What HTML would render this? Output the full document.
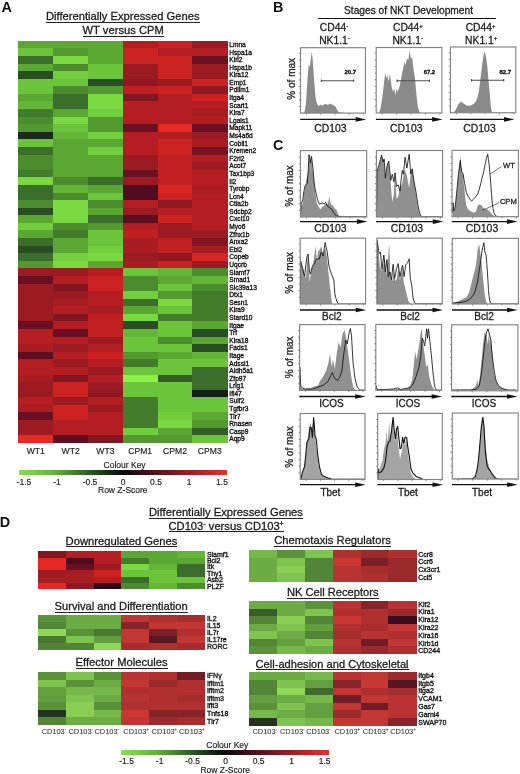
<!DOCTYPE html>
<html><head><meta charset="utf-8"><title>Figure</title>
<style>
html,body{margin:0;padding:0;background:#fff;}
body{width:520px;height:774px;overflow:hidden;font-family:"Liberation Sans",sans-serif;}
svg{display:block;will-change:transform;}
text{font-family:"Liberation Sans",sans-serif;fill:#1a1a1a;}
.pl{font-weight:bold;font-size:14.4px;fill:#111;}
.t,.h,.st,.an{stroke:#1a1a1a;stroke-width:0.28px;}
.k,.ax{stroke:#1a1a1a;stroke-width:0.15px;}
.t{font-size:11px;}
.g{font-size:6.6px;fill:#0c0c0c;stroke:#0c0c0c;stroke-width:0.3px;}
.gd{font-size:7px;}
.ax{font-size:8.6px;}
.k{font-size:8.5px;}
.cd{font-size:7.4px;fill:#303030;stroke:#303030;stroke-width:0.06px;}
.h{font-size:10px;}
.cdl{font-size:10.4px;}
.st{font-size:10.3px;}
.sm{font-size:5.9px;font-weight:bold;fill:#111;stroke:#111;stroke-width:0.3px;}
.an{font-size:7.6px;}
</style></head><body>
<svg width="520" height="774" viewBox="0 0 520 774" shape-rendering="crispEdges">
<defs>
<linearGradient id="key" x1="0" y1="0" x2="1" y2="0">
<stop offset="0" stop-color="#86e24a"/><stop offset="0.17" stop-color="#62b438"/><stop offset="0.34" stop-color="#2c5a22"/><stop offset="0.5" stop-color="#08080c"/><stop offset="0.66" stop-color="#561020"/><stop offset="0.83" stop-color="#a81c24"/><stop offset="1" stop-color="#e4322c"/></linearGradient>
</defs>
<rect x="0" y="0" width="520" height="774" fill="#ffffff"/>
<text class="pl" x="1.6" y="11.6">A</text>
<text class="t" x="46" y="20" textLength="153.5" lengthAdjust="spacingAndGlyphs">Differentially Expressed Genes</text>
<rect x="46" y="22" width="153.5" height="1" fill="#222"/>
<text class="t" x="82.5" y="34" textLength="81.3" lengthAdjust="spacingAndGlyphs">WT versus CPM</text>
<rect x="82.5" y="36" width="81.3" height="1" fill="#222"/>
<g>
<rect x="18.4" y="40.8" width="35.1" height="7.88" fill="#5aa832"/>
<rect x="18.4" y="48.38" width="35.1" height="7.88" fill="#6cc43a"/>
<rect x="18.4" y="55.97" width="35.1" height="7.88" fill="#3a6e2a"/>
<rect x="18.4" y="63.55" width="35.1" height="7.88" fill="#5aa832"/>
<rect x="18.4" y="71.14" width="35.1" height="7.88" fill="#2a4e24"/>
<rect x="18.4" y="78.72" width="35.1" height="7.88" fill="#6cc43a"/>
<rect x="18.4" y="86.31" width="35.1" height="7.88" fill="#6cc43a"/>
<rect x="18.4" y="93.89" width="35.1" height="7.88" fill="#5aa832"/>
<rect x="18.4" y="101.48" width="35.1" height="7.88" fill="#63b636"/>
<rect x="18.4" y="109.06" width="35.1" height="7.88" fill="#427d2c"/>
<rect x="18.4" y="116.65" width="35.1" height="7.88" fill="#4a8c2e"/>
<rect x="18.4" y="124.23" width="35.1" height="7.88" fill="#529a30"/>
<rect x="18.4" y="131.82" width="35.1" height="7.88" fill="#1a2a1c"/>
<rect x="18.4" y="139.41" width="35.1" height="7.88" fill="#6cc43a"/>
<rect x="18.4" y="146.99" width="35.1" height="7.88" fill="#3a6e2a"/>
<rect x="18.4" y="154.57" width="35.1" height="7.88" fill="#4a8c2e"/>
<rect x="18.4" y="162.16" width="35.1" height="7.88" fill="#4a8c2e"/>
<rect x="18.4" y="169.75" width="35.1" height="7.88" fill="#427d2c"/>
<rect x="18.4" y="177.33" width="35.1" height="7.88" fill="#7ad840"/>
<rect x="18.4" y="184.92" width="35.1" height="7.88" fill="#3a6e2a"/>
<rect x="18.4" y="192.5" width="35.1" height="7.88" fill="#3a6e2a"/>
<rect x="18.4" y="200.08" width="35.1" height="7.88" fill="#4a8c2e"/>
<rect x="18.4" y="207.67" width="35.1" height="7.88" fill="#2a4e24"/>
<rect x="18.4" y="215.25" width="35.1" height="7.88" fill="#5aa832"/>
<rect x="18.4" y="222.84" width="35.1" height="7.88" fill="#73ce3d"/>
<rect x="18.4" y="230.43" width="35.1" height="7.88" fill="#5aa832"/>
<rect x="18.4" y="238.01" width="35.1" height="7.88" fill="#3a6e2a"/>
<rect x="18.4" y="245.59" width="35.1" height="7.88" fill="#2a4e24"/>
<rect x="18.4" y="253.18" width="35.1" height="7.88" fill="#3a6e2a"/>
<rect x="18.4" y="260.76" width="35.1" height="7.88" fill="#529a30"/>
<rect x="18.4" y="268.35" width="35.1" height="7.88" fill="#9c1a22"/>
<rect x="18.4" y="275.94" width="35.1" height="7.88" fill="#6a1022"/>
<rect x="18.4" y="283.52" width="35.1" height="7.88" fill="#9c1a22"/>
<rect x="18.4" y="291.11" width="35.1" height="7.88" fill="#9c1a22"/>
<rect x="18.4" y="298.69" width="35.1" height="7.88" fill="#9c1a22"/>
<rect x="18.4" y="306.28" width="35.1" height="7.88" fill="#9c1a22"/>
<rect x="18.4" y="313.86" width="35.1" height="7.88" fill="#9c1a22"/>
<rect x="18.4" y="321.44" width="35.1" height="7.88" fill="#6a1022"/>
<rect x="18.4" y="329.03" width="35.1" height="7.88" fill="#b41e22"/>
<rect x="18.4" y="336.62" width="35.1" height="7.88" fill="#b41e22"/>
<rect x="18.4" y="344.2" width="35.1" height="7.88" fill="#a81c22"/>
<rect x="18.4" y="351.79" width="35.1" height="7.88" fill="#5d0e21"/>
<rect x="18.4" y="359.37" width="35.1" height="7.88" fill="#b41e22"/>
<rect x="18.4" y="366.95" width="35.1" height="7.88" fill="#b41e22"/>
<rect x="18.4" y="374.54" width="35.1" height="7.88" fill="#a81c22"/>
<rect x="18.4" y="382.12" width="35.1" height="7.88" fill="#9c1a22"/>
<rect x="18.4" y="389.71" width="35.1" height="7.88" fill="#9c1a22"/>
<rect x="18.4" y="397.3" width="35.1" height="7.88" fill="#b41e22"/>
<rect x="18.4" y="404.88" width="35.1" height="7.88" fill="#a81c22"/>
<rect x="18.4" y="412.47" width="35.1" height="7.88" fill="#6a1022"/>
<rect x="18.4" y="420.05" width="35.1" height="7.88" fill="#9c1a22"/>
<rect x="18.4" y="427.63" width="35.1" height="7.88" fill="#9c1a22"/>
<rect x="18.4" y="435.22" width="35.1" height="7.88" fill="#e42a22"/>
<rect x="53.2" y="40.8" width="35.1" height="7.88" fill="#5aa832"/>
<rect x="53.2" y="48.38" width="35.1" height="7.88" fill="#529a30"/>
<rect x="53.2" y="55.97" width="35.1" height="7.88" fill="#7ad840"/>
<rect x="53.2" y="63.55" width="35.1" height="7.88" fill="#4a8c2e"/>
<rect x="53.2" y="71.14" width="35.1" height="7.88" fill="#73ce3d"/>
<rect x="53.2" y="78.72" width="35.1" height="7.88" fill="#6cc43a"/>
<rect x="53.2" y="86.31" width="35.1" height="7.88" fill="#4a8c2e"/>
<rect x="53.2" y="93.89" width="35.1" height="7.88" fill="#3a6e2a"/>
<rect x="53.2" y="101.48" width="35.1" height="7.88" fill="#3a6e2a"/>
<rect x="53.2" y="109.06" width="35.1" height="7.88" fill="#5aa832"/>
<rect x="53.2" y="116.65" width="35.1" height="7.88" fill="#7ad840"/>
<rect x="53.2" y="124.23" width="35.1" height="7.88" fill="#6cc43a"/>
<rect x="53.2" y="131.82" width="35.1" height="7.88" fill="#63b636"/>
<rect x="53.2" y="139.41" width="35.1" height="7.88" fill="#5aa832"/>
<rect x="53.2" y="146.99" width="35.1" height="7.88" fill="#5aa832"/>
<rect x="53.2" y="154.57" width="35.1" height="7.88" fill="#5aa832"/>
<rect x="53.2" y="162.16" width="35.1" height="7.88" fill="#5aa832"/>
<rect x="53.2" y="169.75" width="35.1" height="7.88" fill="#5aa832"/>
<rect x="53.2" y="177.33" width="35.1" height="7.88" fill="#4a8c2e"/>
<rect x="53.2" y="184.92" width="35.1" height="7.88" fill="#63b636"/>
<rect x="53.2" y="192.5" width="35.1" height="7.88" fill="#4a8c2e"/>
<rect x="53.2" y="200.08" width="35.1" height="7.88" fill="#7ad840"/>
<rect x="53.2" y="207.67" width="35.1" height="7.88" fill="#7ad840"/>
<rect x="53.2" y="215.25" width="35.1" height="7.88" fill="#7ad840"/>
<rect x="53.2" y="222.84" width="35.1" height="7.88" fill="#4a8c2e"/>
<rect x="53.2" y="230.43" width="35.1" height="7.88" fill="#427d2c"/>
<rect x="53.2" y="238.01" width="35.1" height="7.88" fill="#5aa832"/>
<rect x="53.2" y="245.59" width="35.1" height="7.88" fill="#5aa832"/>
<rect x="53.2" y="253.18" width="35.1" height="7.88" fill="#73ce3d"/>
<rect x="53.2" y="260.76" width="35.1" height="7.88" fill="#7ad840"/>
<rect x="53.2" y="268.35" width="35.1" height="7.88" fill="#9c1a22"/>
<rect x="53.2" y="275.94" width="35.1" height="7.88" fill="#b41e22"/>
<rect x="53.2" y="283.52" width="35.1" height="7.88" fill="#841622"/>
<rect x="53.2" y="291.11" width="35.1" height="7.88" fill="#9c1a22"/>
<rect x="53.2" y="298.69" width="35.1" height="7.88" fill="#a81c22"/>
<rect x="53.2" y="306.28" width="35.1" height="7.88" fill="#b41e22"/>
<rect x="53.2" y="313.86" width="35.1" height="7.88" fill="#841622"/>
<rect x="53.2" y="321.44" width="35.1" height="7.88" fill="#b41e22"/>
<rect x="53.2" y="329.03" width="35.1" height="7.88" fill="#6a1022"/>
<rect x="53.2" y="336.62" width="35.1" height="7.88" fill="#b41e22"/>
<rect x="53.2" y="344.2" width="35.1" height="7.88" fill="#9c1a22"/>
<rect x="53.2" y="351.79" width="35.1" height="7.88" fill="#b41e22"/>
<rect x="53.2" y="359.37" width="35.1" height="7.88" fill="#9c1a22"/>
<rect x="53.2" y="366.95" width="35.1" height="7.88" fill="#b41e22"/>
<rect x="53.2" y="374.54" width="35.1" height="7.88" fill="#841622"/>
<rect x="53.2" y="382.12" width="35.1" height="7.88" fill="#cc2222"/>
<rect x="53.2" y="389.71" width="35.1" height="7.88" fill="#cc2222"/>
<rect x="53.2" y="397.3" width="35.1" height="7.88" fill="#9c1a22"/>
<rect x="53.2" y="404.88" width="35.1" height="7.88" fill="#cc2222"/>
<rect x="53.2" y="412.47" width="35.1" height="7.88" fill="#cc2222"/>
<rect x="53.2" y="420.05" width="35.1" height="7.88" fill="#b41e22"/>
<rect x="53.2" y="427.63" width="35.1" height="7.88" fill="#b41e22"/>
<rect x="53.2" y="435.22" width="35.1" height="7.88" fill="#5d0e21"/>
<rect x="88" y="40.8" width="35.1" height="7.88" fill="#5aa832"/>
<rect x="88" y="48.38" width="35.1" height="7.88" fill="#5aa832"/>
<rect x="88" y="55.97" width="35.1" height="7.88" fill="#5aa832"/>
<rect x="88" y="63.55" width="35.1" height="7.88" fill="#6cc43a"/>
<rect x="88" y="71.14" width="35.1" height="7.88" fill="#6cc43a"/>
<rect x="88" y="78.72" width="35.1" height="7.88" fill="#2a4e24"/>
<rect x="88" y="86.31" width="35.1" height="7.88" fill="#529a30"/>
<rect x="88" y="93.89" width="35.1" height="7.88" fill="#7ad840"/>
<rect x="88" y="101.48" width="35.1" height="7.88" fill="#7ad840"/>
<rect x="88" y="109.06" width="35.1" height="7.88" fill="#73ce3d"/>
<rect x="88" y="116.65" width="35.1" height="7.88" fill="#529a30"/>
<rect x="88" y="124.23" width="35.1" height="7.88" fill="#529a30"/>
<rect x="88" y="131.82" width="35.1" height="7.88" fill="#73ce3d"/>
<rect x="88" y="139.41" width="35.1" height="7.88" fill="#5aa832"/>
<rect x="88" y="146.99" width="35.1" height="7.88" fill="#73ce3d"/>
<rect x="88" y="154.57" width="35.1" height="7.88" fill="#5aa832"/>
<rect x="88" y="162.16" width="35.1" height="7.88" fill="#5aa832"/>
<rect x="88" y="169.75" width="35.1" height="7.88" fill="#5aa832"/>
<rect x="88" y="177.33" width="35.1" height="7.88" fill="#3a6e2a"/>
<rect x="88" y="184.92" width="35.1" height="7.88" fill="#5aa832"/>
<rect x="88" y="192.5" width="35.1" height="7.88" fill="#6cc43a"/>
<rect x="88" y="200.08" width="35.1" height="7.88" fill="#4a8c2e"/>
<rect x="88" y="207.67" width="35.1" height="7.88" fill="#5aa832"/>
<rect x="88" y="215.25" width="35.1" height="7.88" fill="#3a6e2a"/>
<rect x="88" y="222.84" width="35.1" height="7.88" fill="#529a30"/>
<rect x="88" y="230.43" width="35.1" height="7.88" fill="#6cc43a"/>
<rect x="88" y="238.01" width="35.1" height="7.88" fill="#6cc43a"/>
<rect x="88" y="245.59" width="35.1" height="7.88" fill="#73ce3d"/>
<rect x="88" y="253.18" width="35.1" height="7.88" fill="#7ad840"/>
<rect x="88" y="260.76" width="35.1" height="7.88" fill="#5aa832"/>
<rect x="88" y="268.35" width="35.1" height="7.88" fill="#b41e22"/>
<rect x="88" y="275.94" width="35.1" height="7.88" fill="#cc2222"/>
<rect x="88" y="283.52" width="35.1" height="7.88" fill="#cc2222"/>
<rect x="88" y="291.11" width="35.1" height="7.88" fill="#b41e22"/>
<rect x="88" y="298.69" width="35.1" height="7.88" fill="#b41e22"/>
<rect x="88" y="306.28" width="35.1" height="7.88" fill="#a81c22"/>
<rect x="88" y="313.86" width="35.1" height="7.88" fill="#c02022"/>
<rect x="88" y="321.44" width="35.1" height="7.88" fill="#c02022"/>
<rect x="88" y="329.03" width="35.1" height="7.88" fill="#c02022"/>
<rect x="88" y="336.62" width="35.1" height="7.88" fill="#9c1a22"/>
<rect x="88" y="344.2" width="35.1" height="7.88" fill="#b41e22"/>
<rect x="88" y="351.79" width="35.1" height="7.88" fill="#cc2222"/>
<rect x="88" y="359.37" width="35.1" height="7.88" fill="#b41e22"/>
<rect x="88" y="366.95" width="35.1" height="7.88" fill="#9c1a22"/>
<rect x="88" y="374.54" width="35.1" height="7.88" fill="#b41e22"/>
<rect x="88" y="382.12" width="35.1" height="7.88" fill="#9c1a22"/>
<rect x="88" y="389.71" width="35.1" height="7.88" fill="#901822"/>
<rect x="88" y="397.3" width="35.1" height="7.88" fill="#b41e22"/>
<rect x="88" y="404.88" width="35.1" height="7.88" fill="#9c1a22"/>
<rect x="88" y="412.47" width="35.1" height="7.88" fill="#b41e22"/>
<rect x="88" y="420.05" width="35.1" height="7.88" fill="#b41e22"/>
<rect x="88" y="427.63" width="35.1" height="7.88" fill="#b41e22"/>
<rect x="88" y="435.22" width="35.1" height="7.88" fill="#841622"/>
<rect x="122.8" y="40.8" width="35.1" height="7.88" fill="#b41e22"/>
<rect x="122.8" y="48.38" width="35.1" height="7.88" fill="#cc2222"/>
<rect x="122.8" y="55.97" width="35.1" height="7.88" fill="#cc2222"/>
<rect x="122.8" y="63.55" width="35.1" height="7.88" fill="#9c1a22"/>
<rect x="122.8" y="71.14" width="35.1" height="7.88" fill="#9c1a22"/>
<rect x="122.8" y="78.72" width="35.1" height="7.88" fill="#901822"/>
<rect x="122.8" y="86.31" width="35.1" height="7.88" fill="#c02022"/>
<rect x="122.8" y="93.89" width="35.1" height="7.88" fill="#841622"/>
<rect x="122.8" y="101.48" width="35.1" height="7.88" fill="#b41e22"/>
<rect x="122.8" y="109.06" width="35.1" height="7.88" fill="#b41e22"/>
<rect x="122.8" y="116.65" width="35.1" height="7.88" fill="#b41e22"/>
<rect x="122.8" y="124.23" width="35.1" height="7.88" fill="#6a1022"/>
<rect x="122.8" y="131.82" width="35.1" height="7.88" fill="#b41e22"/>
<rect x="122.8" y="139.41" width="35.1" height="7.88" fill="#b41e22"/>
<rect x="122.8" y="146.99" width="35.1" height="7.88" fill="#b41e22"/>
<rect x="122.8" y="154.57" width="35.1" height="7.88" fill="#9c1a22"/>
<rect x="122.8" y="162.16" width="35.1" height="7.88" fill="#9c1a22"/>
<rect x="122.8" y="169.75" width="35.1" height="7.88" fill="#6a1022"/>
<rect x="122.8" y="177.33" width="35.1" height="7.88" fill="#9c1a22"/>
<rect x="122.8" y="184.92" width="35.1" height="7.88" fill="#500c20"/>
<rect x="122.8" y="192.5" width="35.1" height="7.88" fill="#500c20"/>
<rect x="122.8" y="200.08" width="35.1" height="7.88" fill="#b41e22"/>
<rect x="122.8" y="207.67" width="35.1" height="7.88" fill="#9c1a22"/>
<rect x="122.8" y="215.25" width="35.1" height="7.88" fill="#5d0e21"/>
<rect x="122.8" y="222.84" width="35.1" height="7.88" fill="#b41e22"/>
<rect x="122.8" y="230.43" width="35.1" height="7.88" fill="#c02022"/>
<rect x="122.8" y="238.01" width="35.1" height="7.88" fill="#a81c22"/>
<rect x="122.8" y="245.59" width="35.1" height="7.88" fill="#a81c22"/>
<rect x="122.8" y="253.18" width="35.1" height="7.88" fill="#9c1a22"/>
<rect x="122.8" y="260.76" width="35.1" height="7.88" fill="#a81c22"/>
<rect x="122.8" y="268.35" width="35.1" height="7.88" fill="#6cc43a"/>
<rect x="122.8" y="275.94" width="35.1" height="7.88" fill="#4a8c2e"/>
<rect x="122.8" y="283.52" width="35.1" height="7.88" fill="#4a8c2e"/>
<rect x="122.8" y="291.11" width="35.1" height="7.88" fill="#73ce3d"/>
<rect x="122.8" y="298.69" width="35.1" height="7.88" fill="#3a6e2a"/>
<rect x="122.8" y="306.28" width="35.1" height="7.88" fill="#5aa832"/>
<rect x="122.8" y="313.86" width="35.1" height="7.88" fill="#7ad840"/>
<rect x="122.8" y="321.44" width="35.1" height="7.88" fill="#2a4e24"/>
<rect x="122.8" y="329.03" width="35.1" height="7.88" fill="#63b636"/>
<rect x="122.8" y="336.62" width="35.1" height="7.88" fill="#6cc43a"/>
<rect x="122.8" y="344.2" width="35.1" height="7.88" fill="#6cc43a"/>
<rect x="122.8" y="351.79" width="35.1" height="7.88" fill="#529a30"/>
<rect x="122.8" y="359.37" width="35.1" height="7.88" fill="#427d2c"/>
<rect x="122.8" y="366.95" width="35.1" height="7.88" fill="#6cc43a"/>
<rect x="122.8" y="374.54" width="35.1" height="7.88" fill="#8cf048"/>
<rect x="122.8" y="382.12" width="35.1" height="7.88" fill="#6cc43a"/>
<rect x="122.8" y="389.71" width="35.1" height="7.88" fill="#6cc43a"/>
<rect x="122.8" y="397.3" width="35.1" height="7.88" fill="#427d2c"/>
<rect x="122.8" y="404.88" width="35.1" height="7.88" fill="#427d2c"/>
<rect x="122.8" y="412.47" width="35.1" height="7.88" fill="#427d2c"/>
<rect x="122.8" y="420.05" width="35.1" height="7.88" fill="#427d2c"/>
<rect x="122.8" y="427.63" width="35.1" height="7.88" fill="#73ce3d"/>
<rect x="122.8" y="435.22" width="35.1" height="7.88" fill="#529a30"/>
<rect x="157.6" y="40.8" width="35.1" height="7.88" fill="#cc2222"/>
<rect x="157.6" y="48.38" width="35.1" height="7.88" fill="#b41e22"/>
<rect x="157.6" y="55.97" width="35.1" height="7.88" fill="#cc2222"/>
<rect x="157.6" y="63.55" width="35.1" height="7.88" fill="#cc2222"/>
<rect x="157.6" y="71.14" width="35.1" height="7.88" fill="#cc2222"/>
<rect x="157.6" y="78.72" width="35.1" height="7.88" fill="#9c1a22"/>
<rect x="157.6" y="86.31" width="35.1" height="7.88" fill="#cc2222"/>
<rect x="157.6" y="93.89" width="35.1" height="7.88" fill="#b41e22"/>
<rect x="157.6" y="101.48" width="35.1" height="7.88" fill="#b41e22"/>
<rect x="157.6" y="109.06" width="35.1" height="7.88" fill="#b41e22"/>
<rect x="157.6" y="116.65" width="35.1" height="7.88" fill="#b41e22"/>
<rect x="157.6" y="124.23" width="35.1" height="7.88" fill="#e42a22"/>
<rect x="157.6" y="131.82" width="35.1" height="7.88" fill="#b41e22"/>
<rect x="157.6" y="139.41" width="35.1" height="7.88" fill="#cc2222"/>
<rect x="157.6" y="146.99" width="35.1" height="7.88" fill="#cc2222"/>
<rect x="157.6" y="154.57" width="35.1" height="7.88" fill="#c02022"/>
<rect x="157.6" y="162.16" width="35.1" height="7.88" fill="#c02022"/>
<rect x="157.6" y="169.75" width="35.1" height="7.88" fill="#c02022"/>
<rect x="157.6" y="177.33" width="35.1" height="7.88" fill="#c02022"/>
<rect x="157.6" y="184.92" width="35.1" height="7.88" fill="#d82622"/>
<rect x="157.6" y="192.5" width="35.1" height="7.88" fill="#cc2222"/>
<rect x="157.6" y="200.08" width="35.1" height="7.88" fill="#901822"/>
<rect x="157.6" y="207.67" width="35.1" height="7.88" fill="#b41e22"/>
<rect x="157.6" y="215.25" width="35.1" height="7.88" fill="#cc2222"/>
<rect x="157.6" y="222.84" width="35.1" height="7.88" fill="#9c1a22"/>
<rect x="157.6" y="230.43" width="35.1" height="7.88" fill="#9c1a22"/>
<rect x="157.6" y="238.01" width="35.1" height="7.88" fill="#c02022"/>
<rect x="157.6" y="245.59" width="35.1" height="7.88" fill="#c02022"/>
<rect x="157.6" y="253.18" width="35.1" height="7.88" fill="#901822"/>
<rect x="157.6" y="260.76" width="35.1" height="7.88" fill="#cc2222"/>
<rect x="157.6" y="268.35" width="35.1" height="7.88" fill="#63b636"/>
<rect x="157.6" y="275.94" width="35.1" height="7.88" fill="#5aa832"/>
<rect x="157.6" y="283.52" width="35.1" height="7.88" fill="#6cc43a"/>
<rect x="157.6" y="291.11" width="35.1" height="7.88" fill="#529a30"/>
<rect x="157.6" y="298.69" width="35.1" height="7.88" fill="#7ad840"/>
<rect x="157.6" y="306.28" width="35.1" height="7.88" fill="#6cc43a"/>
<rect x="157.6" y="313.86" width="35.1" height="7.88" fill="#427d2c"/>
<rect x="157.6" y="321.44" width="35.1" height="7.88" fill="#6cc43a"/>
<rect x="157.6" y="329.03" width="35.1" height="7.88" fill="#6cc43a"/>
<rect x="157.6" y="336.62" width="35.1" height="7.88" fill="#4a8c2e"/>
<rect x="157.6" y="344.2" width="35.1" height="7.88" fill="#6cc43a"/>
<rect x="157.6" y="351.79" width="35.1" height="7.88" fill="#5aa832"/>
<rect x="157.6" y="359.37" width="35.1" height="7.88" fill="#6cc43a"/>
<rect x="157.6" y="366.95" width="35.1" height="7.88" fill="#6cc43a"/>
<rect x="157.6" y="374.54" width="35.1" height="7.88" fill="#325e27"/>
<rect x="157.6" y="382.12" width="35.1" height="7.88" fill="#6cc43a"/>
<rect x="157.6" y="389.71" width="35.1" height="7.88" fill="#6cc43a"/>
<rect x="157.6" y="397.3" width="35.1" height="7.88" fill="#6cc43a"/>
<rect x="157.6" y="404.88" width="35.1" height="7.88" fill="#6cc43a"/>
<rect x="157.6" y="412.47" width="35.1" height="7.88" fill="#73ce3d"/>
<rect x="157.6" y="420.05" width="35.1" height="7.88" fill="#7ad840"/>
<rect x="157.6" y="427.63" width="35.1" height="7.88" fill="#5aa832"/>
<rect x="157.6" y="435.22" width="35.1" height="7.88" fill="#529a30"/>
<rect x="192.4" y="40.8" width="35.1" height="7.88" fill="#9c1a22"/>
<rect x="192.4" y="48.38" width="35.1" height="7.88" fill="#b41e22"/>
<rect x="192.4" y="55.97" width="35.1" height="7.88" fill="#6a1022"/>
<rect x="192.4" y="63.55" width="35.1" height="7.88" fill="#9c1a22"/>
<rect x="192.4" y="71.14" width="35.1" height="7.88" fill="#9c1a22"/>
<rect x="192.4" y="78.72" width="35.1" height="7.88" fill="#cc2222"/>
<rect x="192.4" y="86.31" width="35.1" height="7.88" fill="#901822"/>
<rect x="192.4" y="93.89" width="35.1" height="7.88" fill="#cc2222"/>
<rect x="192.4" y="101.48" width="35.1" height="7.88" fill="#b41e22"/>
<rect x="192.4" y="109.06" width="35.1" height="7.88" fill="#a81c22"/>
<rect x="192.4" y="116.65" width="35.1" height="7.88" fill="#b41e22"/>
<rect x="192.4" y="124.23" width="35.1" height="7.88" fill="#6a1022"/>
<rect x="192.4" y="131.82" width="35.1" height="7.88" fill="#9c1a22"/>
<rect x="192.4" y="139.41" width="35.1" height="7.88" fill="#a81c22"/>
<rect x="192.4" y="146.99" width="35.1" height="7.88" fill="#771322"/>
<rect x="192.4" y="154.57" width="35.1" height="7.88" fill="#b41e22"/>
<rect x="192.4" y="162.16" width="35.1" height="7.88" fill="#9c1a22"/>
<rect x="192.4" y="169.75" width="35.1" height="7.88" fill="#b41e22"/>
<rect x="192.4" y="177.33" width="35.1" height="7.88" fill="#b41e22"/>
<rect x="192.4" y="184.92" width="35.1" height="7.88" fill="#a81c22"/>
<rect x="192.4" y="192.5" width="35.1" height="7.88" fill="#b41e22"/>
<rect x="192.4" y="200.08" width="35.1" height="7.88" fill="#b41e22"/>
<rect x="192.4" y="207.67" width="35.1" height="7.88" fill="#b41e22"/>
<rect x="192.4" y="215.25" width="35.1" height="7.88" fill="#b41e22"/>
<rect x="192.4" y="222.84" width="35.1" height="7.88" fill="#b41e22"/>
<rect x="192.4" y="230.43" width="35.1" height="7.88" fill="#9c1a22"/>
<rect x="192.4" y="238.01" width="35.1" height="7.88" fill="#841622"/>
<rect x="192.4" y="245.59" width="35.1" height="7.88" fill="#a81c22"/>
<rect x="192.4" y="253.18" width="35.1" height="7.88" fill="#d82622"/>
<rect x="192.4" y="260.76" width="35.1" height="7.88" fill="#9c1a22"/>
<rect x="192.4" y="268.35" width="35.1" height="7.88" fill="#4a8c2e"/>
<rect x="192.4" y="275.94" width="35.1" height="7.88" fill="#63b636"/>
<rect x="192.4" y="283.52" width="35.1" height="7.88" fill="#4a8c2e"/>
<rect x="192.4" y="291.11" width="35.1" height="7.88" fill="#427d2c"/>
<rect x="192.4" y="298.69" width="35.1" height="7.88" fill="#427d2c"/>
<rect x="192.4" y="306.28" width="35.1" height="7.88" fill="#427d2c"/>
<rect x="192.4" y="313.86" width="35.1" height="7.88" fill="#427d2c"/>
<rect x="192.4" y="321.44" width="35.1" height="7.88" fill="#5aa832"/>
<rect x="192.4" y="329.03" width="35.1" height="7.88" fill="#2a4e24"/>
<rect x="192.4" y="336.62" width="35.1" height="7.88" fill="#5aa832"/>
<rect x="192.4" y="344.2" width="35.1" height="7.88" fill="#2a4e24"/>
<rect x="192.4" y="351.79" width="35.1" height="7.88" fill="#63b636"/>
<rect x="192.4" y="359.37" width="35.1" height="7.88" fill="#6cc43a"/>
<rect x="192.4" y="366.95" width="35.1" height="7.88" fill="#3a6e2a"/>
<rect x="192.4" y="374.54" width="35.1" height="7.88" fill="#3a6e2a"/>
<rect x="192.4" y="382.12" width="35.1" height="7.88" fill="#3a6e2a"/>
<rect x="192.4" y="389.71" width="35.1" height="7.88" fill="#131f15"/>
<rect x="192.4" y="397.3" width="35.1" height="7.88" fill="#6cc43a"/>
<rect x="192.4" y="404.88" width="35.1" height="7.88" fill="#6cc43a"/>
<rect x="192.4" y="412.47" width="35.1" height="7.88" fill="#5aa832"/>
<rect x="192.4" y="420.05" width="35.1" height="7.88" fill="#529a30"/>
<rect x="192.4" y="427.63" width="35.1" height="7.88" fill="#325e27"/>
<rect x="192.4" y="435.22" width="35.1" height="7.88" fill="#6cc43a"/>
</g>
<text class="g" x="229.3" y="46.98">Lmna</text>
<text class="g" x="229.3" y="54.57">Hspa1a</text>
<text class="g" x="229.3" y="62.15">Klri2</text>
<text class="g" x="229.3" y="69.74">Hspa1b</text>
<text class="g" x="229.3" y="77.32">Klra12</text>
<text class="g" x="229.3" y="84.91">Emp1</text>
<text class="g" x="229.3" y="92.49">Pdlim1</text>
<text class="g" x="229.3" y="100.08">Itga4</text>
<text class="g" x="229.3" y="107.66">Scart1</text>
<text class="g" x="229.3" y="115.25">Klra7</text>
<text class="g" x="229.3" y="122.83">Lgals1</text>
<text class="g" x="229.3" y="130.42">Mapk11</text>
<text class="g" x="229.3" y="138">Ms4a6d</text>
<text class="g" x="229.3" y="145.59">Cobll1</text>
<text class="g" x="229.3" y="153.17">Kremen2</text>
<text class="g" x="229.3" y="160.76">F2rl2</text>
<text class="g" x="229.3" y="168.34">Acot7</text>
<text class="g" x="229.3" y="175.93">Tax1bp3</text>
<text class="g" x="229.3" y="183.52">Il2</text>
<text class="g" x="229.3" y="191.1">Tyrobp</text>
<text class="g" x="229.3" y="198.68">Lcn4</text>
<text class="g" x="229.3" y="206.27">Ctla2b</text>
<text class="g" x="229.3" y="213.85">Sdcbp2</text>
<text class="g" x="229.3" y="221.44">Cxcl10</text>
<text class="g" x="229.3" y="229.03">Myo6</text>
<text class="g" x="229.3" y="236.61">Zfhx1b</text>
<text class="g" x="229.3" y="244.19">Anxa2</text>
<text class="g" x="229.3" y="251.78">Ebi2</text>
<text class="g" x="229.3" y="259.37">Copeb</text>
<text class="g" x="229.3" y="266.95">Uqcrb</text>
<text class="g" x="229.3" y="274.54">Slamf7</text>
<text class="g" x="229.3" y="282.12">Smad1</text>
<text class="g" x="229.3" y="289.71">Slc39a13</text>
<text class="g" x="229.3" y="297.29">Dtx1</text>
<text class="g" x="229.3" y="304.88">Sesn1</text>
<text class="g" x="229.3" y="312.46">Klra9</text>
<text class="g" x="229.3" y="320.05">Stard10</text>
<text class="g" x="229.3" y="327.63">Itgae</text>
<text class="g" x="229.3" y="335.22">Trf</text>
<text class="g" x="229.3" y="342.8">Klra18</text>
<text class="g" x="229.3" y="350.39">Fads1</text>
<text class="g" x="229.3" y="357.97">Itage</text>
<text class="g" x="229.3" y="365.56">Adssl1</text>
<text class="g" x="229.3" y="373.14">Aldh5a1</text>
<text class="g" x="229.3" y="380.73">Zfp97</text>
<text class="g" x="229.3" y="388.31">Lrig1</text>
<text class="g" x="229.3" y="395.9">Ifi47</text>
<text class="g" x="229.3" y="403.48">Sulf2</text>
<text class="g" x="229.3" y="411.07">Tgfbr3</text>
<text class="g" x="229.3" y="418.65">Tlr7</text>
<text class="g" x="229.3" y="426.24">Rnasen</text>
<text class="g" x="229.3" y="433.82">Casp9</text>
<text class="g" x="229.3" y="441.41">Aqp9</text>
<text class="ax" text-anchor="middle" x="35.8" y="453.6">WT1</text>
<text class="ax" text-anchor="middle" x="70.6" y="453.6">WT2</text>
<text class="ax" text-anchor="middle" x="105.4" y="453.6">WT3</text>
<text class="ax" text-anchor="middle" x="140.2" y="453.6">CPM1</text>
<text class="ax" text-anchor="middle" x="175" y="453.6">CPM2</text>
<text class="ax" text-anchor="middle" x="209.8" y="453.6">CPM3</text>
<text class="k" text-anchor="middle" x="124.6" y="468">Colour Key</text>
<rect x="18.8" y="470" width="208.2" height="5.2" fill="url(#key)"/>
<text class="k" text-anchor="middle" x="24" y="484.5">-1.5</text>
<text class="k" text-anchor="middle" x="57" y="484.5">-1</text>
<text class="k" text-anchor="middle" x="90" y="484.5">-0.5</text>
<text class="k" text-anchor="middle" x="123" y="484.5">0</text>
<text class="k" text-anchor="middle" x="156" y="484.5">0.5</text>
<text class="k" text-anchor="middle" x="189" y="484.5">1</text>
<text class="k" text-anchor="middle" x="222" y="484.5">1.5</text>
<text class="k" text-anchor="middle" x="122.8" y="492.9">Row Z-Score</text>
<text class="pl" x="-0.2" y="527">D</text>
<text class="t" x="149" y="516" textLength="154" lengthAdjust="spacingAndGlyphs">Differentially Expressed Genes</text>
<rect x="149" y="518" width="154" height="1" fill="#222"/>
<text class="t" x="168.5" y="529.8" textLength="115.3" lengthAdjust="spacingAndGlyphs">CD103<tspan font-size="7" dy="-4">-</tspan><tspan dy="4"> versus CD103</tspan><tspan font-size="7" dy="-4">+</tspan></text>
<rect x="168.5" y="531" width="115.3" height="1" fill="#222"/>
<text class="t" x="65.6" y="544.6" textLength="111.8" lengthAdjust="spacingAndGlyphs">Downregulated Genes</text>
<rect x="65.6" y="546" width="111.8" height="1" fill="#222"/>
<g>
<rect x="37.8" y="551.2" width="28.15" height="6.63" fill="#841622"/>
<rect x="37.8" y="557.53" width="28.15" height="6.63" fill="#e42a22"/>
<rect x="37.8" y="563.86" width="28.15" height="6.63" fill="#e42a22"/>
<rect x="37.8" y="570.19" width="28.15" height="6.63" fill="#9c1a22"/>
<rect x="37.8" y="576.52" width="28.15" height="6.63" fill="#a81c22"/>
<rect x="37.8" y="582.85" width="28.15" height="6.63" fill="#e42a22"/>
<rect x="65.65" y="551.2" width="28.15" height="6.63" fill="#b41e22"/>
<rect x="65.65" y="557.53" width="28.15" height="6.63" fill="#500c20"/>
<rect x="65.65" y="563.86" width="28.15" height="6.63" fill="#6a1022"/>
<rect x="65.65" y="570.19" width="28.15" height="6.63" fill="#a81c22"/>
<rect x="65.65" y="576.52" width="28.15" height="6.63" fill="#a81c22"/>
<rect x="65.65" y="582.85" width="28.15" height="6.63" fill="#901822"/>
<rect x="93.5" y="551.2" width="28.15" height="6.63" fill="#b41e22"/>
<rect x="93.5" y="557.53" width="28.15" height="6.63" fill="#b41e22"/>
<rect x="93.5" y="563.86" width="28.15" height="6.63" fill="#9c1a22"/>
<rect x="93.5" y="570.19" width="28.15" height="6.63" fill="#cc2222"/>
<rect x="93.5" y="576.52" width="28.15" height="6.63" fill="#b41e22"/>
<rect x="93.5" y="582.85" width="28.15" height="6.63" fill="#30081a"/>
<rect x="121.35" y="551.2" width="28.15" height="6.63" fill="#5aa832"/>
<rect x="121.35" y="557.53" width="28.15" height="6.63" fill="#427d2c"/>
<rect x="121.35" y="563.86" width="28.15" height="6.63" fill="#7ad840"/>
<rect x="121.35" y="570.19" width="28.15" height="6.63" fill="#6cc43a"/>
<rect x="121.35" y="576.52" width="28.15" height="6.63" fill="#3a6e2a"/>
<rect x="121.35" y="582.85" width="28.15" height="6.63" fill="#4a8c2e"/>
<rect x="149.2" y="551.2" width="28.15" height="6.63" fill="#5aa832"/>
<rect x="149.2" y="557.53" width="28.15" height="6.63" fill="#5aa832"/>
<rect x="149.2" y="563.86" width="28.15" height="6.63" fill="#63b636"/>
<rect x="149.2" y="570.19" width="28.15" height="6.63" fill="#6cc43a"/>
<rect x="149.2" y="576.52" width="28.15" height="6.63" fill="#6cc43a"/>
<rect x="149.2" y="582.85" width="28.15" height="6.63" fill="#63b636"/>
<rect x="177.05" y="551.2" width="28.15" height="6.63" fill="#63b636"/>
<rect x="177.05" y="557.53" width="28.15" height="6.63" fill="#5aa832"/>
<rect x="177.05" y="563.86" width="28.15" height="6.63" fill="#3a6e2a"/>
<rect x="177.05" y="570.19" width="28.15" height="6.63" fill="#3a6e2a"/>
<rect x="177.05" y="576.52" width="28.15" height="6.63" fill="#6cc43a"/>
<rect x="177.05" y="582.85" width="28.15" height="6.63" fill="#4a8c2e"/>
</g>
<text class="g gd" x="206.9" y="556.75">Slamf1</text>
<text class="g gd" x="206.9" y="563.1">Bcl2</text>
<text class="g gd" x="206.9" y="569.45">Itk</text>
<text class="g gd" x="206.9" y="575.8">Thy1</text>
<text class="g gd" x="206.9" y="582.15">Asb2</text>
<text class="g gd" x="206.9" y="588.5">PLZF</text>
<text class="t" x="54.6" y="610" textLength="133.1" lengthAdjust="spacingAndGlyphs">Survival and Differentiation</text>
<rect x="54.6" y="612" width="133.1" height="1" fill="#222"/>
<g>
<rect x="37.8" y="614.9" width="28.15" height="7.28" fill="#5a923a"/>
<rect x="37.8" y="621.88" width="28.15" height="7.28" fill="#528536"/>
<rect x="37.8" y="628.86" width="28.15" height="7.28" fill="#90d858"/>
<rect x="37.8" y="635.84" width="28.15" height="7.28" fill="#4a7832"/>
<rect x="37.8" y="642.82" width="28.15" height="7.28" fill="#528536"/>
<rect x="65.65" y="614.9" width="28.15" height="7.28" fill="#6cac44"/>
<rect x="65.65" y="621.88" width="28.15" height="7.28" fill="#6cac44"/>
<rect x="65.65" y="628.86" width="28.15" height="7.28" fill="#5a923a"/>
<rect x="65.65" y="635.84" width="28.15" height="7.28" fill="#80c450"/>
<rect x="65.65" y="642.82" width="28.15" height="7.28" fill="#528536"/>
<rect x="93.5" y="614.9" width="28.15" height="7.28" fill="#6cac44"/>
<rect x="93.5" y="621.88" width="28.15" height="7.28" fill="#6cac44"/>
<rect x="93.5" y="628.86" width="28.15" height="7.28" fill="#4a7832"/>
<rect x="93.5" y="635.84" width="28.15" height="7.28" fill="#639f3f"/>
<rect x="93.5" y="642.82" width="28.15" height="7.28" fill="#90d858"/>
<rect x="121.35" y="614.9" width="28.15" height="7.28" fill="#c23634"/>
<rect x="121.35" y="621.88" width="28.15" height="7.28" fill="#86242a"/>
<rect x="121.35" y="628.86" width="28.15" height="7.28" fill="#c23634"/>
<rect x="121.35" y="635.84" width="28.15" height="7.28" fill="#c23634"/>
<rect x="121.35" y="642.82" width="28.15" height="7.28" fill="#a62d2e"/>
<rect x="149.2" y="614.9" width="28.15" height="7.28" fill="#b03030"/>
<rect x="149.2" y="621.88" width="28.15" height="7.28" fill="#c23634"/>
<rect x="149.2" y="628.86" width="28.15" height="7.28" fill="#7b2028"/>
<rect x="149.2" y="635.84" width="28.15" height="7.28" fill="#581622"/>
<rect x="149.2" y="642.82" width="28.15" height="7.28" fill="#b03030"/>
<rect x="177.05" y="614.9" width="28.15" height="7.28" fill="#a62d2e"/>
<rect x="177.05" y="621.88" width="28.15" height="7.28" fill="#c23634"/>
<rect x="177.05" y="628.86" width="28.15" height="7.28" fill="#b03030"/>
<rect x="177.05" y="635.84" width="28.15" height="7.28" fill="#c23634"/>
<rect x="177.05" y="642.82" width="28.15" height="7.28" fill="#a62d2e"/>
</g>
<text class="g gd" x="206.9" y="621.35">IL2</text>
<text class="g gd" x="206.9" y="628.2">IL15</text>
<text class="g gd" x="206.9" y="635.05">IL7r</text>
<text class="g gd" x="206.9" y="641.9">IL17re</text>
<text class="g gd" x="206.9" y="648.75">RORC</text>
<text class="t" x="75.6" y="666.3" textLength="92.1" lengthAdjust="spacingAndGlyphs">Effector Molecules</text>
<rect x="75.6" y="668" width="92.1" height="1" fill="#222"/>
<g>
<rect x="37.8" y="672.2" width="28.15" height="7.8" fill="#5a923a"/>
<rect x="37.8" y="679.7" width="28.15" height="7.8" fill="#80c450"/>
<rect x="37.8" y="687.2" width="28.15" height="7.8" fill="#639f3f"/>
<rect x="37.8" y="694.7" width="28.15" height="7.8" fill="#639f3f"/>
<rect x="37.8" y="702.2" width="28.15" height="7.8" fill="#5a923a"/>
<rect x="37.8" y="709.7" width="28.15" height="7.8" fill="#243420"/>
<rect x="37.8" y="717.2" width="28.15" height="7.8" fill="#528536"/>
<rect x="65.65" y="672.2" width="28.15" height="7.8" fill="#80c450"/>
<rect x="65.65" y="679.7" width="28.15" height="7.8" fill="#5a923a"/>
<rect x="65.65" y="687.2" width="28.15" height="7.8" fill="#76b84a"/>
<rect x="65.65" y="694.7" width="28.15" height="7.8" fill="#80c450"/>
<rect x="65.65" y="702.2" width="28.15" height="7.8" fill="#88ce54"/>
<rect x="65.65" y="709.7" width="28.15" height="7.8" fill="#88ce54"/>
<rect x="65.65" y="717.2" width="28.15" height="7.8" fill="#6cac44"/>
<rect x="93.5" y="672.2" width="28.15" height="7.8" fill="#5a923a"/>
<rect x="93.5" y="679.7" width="28.15" height="7.8" fill="#6cac44"/>
<rect x="93.5" y="687.2" width="28.15" height="7.8" fill="#76b84a"/>
<rect x="93.5" y="694.7" width="28.15" height="7.8" fill="#6cac44"/>
<rect x="93.5" y="702.2" width="28.15" height="7.8" fill="#5a923a"/>
<rect x="93.5" y="709.7" width="28.15" height="7.8" fill="#76b84a"/>
<rect x="93.5" y="717.2" width="28.15" height="7.8" fill="#6cac44"/>
<rect x="121.35" y="672.2" width="28.15" height="7.8" fill="#b93332"/>
<rect x="121.35" y="679.7" width="28.15" height="7.8" fill="#c23634"/>
<rect x="121.35" y="687.2" width="28.15" height="7.8" fill="#b03030"/>
<rect x="121.35" y="694.7" width="28.15" height="7.8" fill="#b93332"/>
<rect x="121.35" y="702.2" width="28.15" height="7.8" fill="#b03030"/>
<rect x="121.35" y="709.7" width="28.15" height="7.8" fill="#cb3834"/>
<rect x="121.35" y="717.2" width="28.15" height="7.8" fill="#c23634"/>
<rect x="149.2" y="672.2" width="28.15" height="7.8" fill="#b03030"/>
<rect x="149.2" y="679.7" width="28.15" height="7.8" fill="#9c2a2c"/>
<rect x="149.2" y="687.2" width="28.15" height="7.8" fill="#b03030"/>
<rect x="149.2" y="694.7" width="28.15" height="7.8" fill="#b03030"/>
<rect x="149.2" y="702.2" width="28.15" height="7.8" fill="#b03030"/>
<rect x="149.2" y="709.7" width="28.15" height="7.8" fill="#86242a"/>
<rect x="149.2" y="717.2" width="28.15" height="7.8" fill="#9c2a2c"/>
<rect x="177.05" y="672.2" width="28.15" height="7.8" fill="#701c26"/>
<rect x="177.05" y="679.7" width="28.15" height="7.8" fill="#b03030"/>
<rect x="177.05" y="687.2" width="28.15" height="7.8" fill="#b03030"/>
<rect x="177.05" y="694.7" width="28.15" height="7.8" fill="#a62d2e"/>
<rect x="177.05" y="702.2" width="28.15" height="7.8" fill="#b03030"/>
<rect x="177.05" y="709.7" width="28.15" height="7.8" fill="#86242a"/>
<rect x="177.05" y="717.2" width="28.15" height="7.8" fill="#a62d2e"/>
</g>
<text class="g gd" x="206.9" y="678.05">IFNγ</text>
<text class="g gd" x="206.9" y="685.63">Ifitm1</text>
<text class="g gd" x="206.9" y="693.21">Ifitm2</text>
<text class="g gd" x="206.9" y="700.79">Ifitm3</text>
<text class="g gd" x="206.9" y="708.37">Ifit3</text>
<text class="g gd" x="206.9" y="715.95">Tnfs18</text>
<text class="g gd" x="206.9" y="723.53">Tlr7</text>
<text class="t" x="274.2" y="544.4" textLength="116.6" lengthAdjust="spacingAndGlyphs">Chemotaxis Regulators</text>
<rect x="274.2" y="546" width="116.6" height="1" fill="#222"/>
<g>
<rect x="249.2" y="550.2" width="28.14" height="8.06" fill="#76b84a"/>
<rect x="249.2" y="557.96" width="28.14" height="8.06" fill="#6cac44"/>
<rect x="249.2" y="565.72" width="28.14" height="8.06" fill="#6cac44"/>
<rect x="249.2" y="573.48" width="28.14" height="8.06" fill="#6cac44"/>
<rect x="277.04" y="550.2" width="28.14" height="8.06" fill="#5a923a"/>
<rect x="277.04" y="557.96" width="28.14" height="8.06" fill="#80c450"/>
<rect x="277.04" y="565.72" width="28.14" height="8.06" fill="#88ce54"/>
<rect x="277.04" y="573.48" width="28.14" height="8.06" fill="#80c450"/>
<rect x="304.88" y="550.2" width="28.14" height="8.06" fill="#80c450"/>
<rect x="304.88" y="557.96" width="28.14" height="8.06" fill="#528536"/>
<rect x="304.88" y="565.72" width="28.14" height="8.06" fill="#528536"/>
<rect x="304.88" y="573.48" width="28.14" height="8.06" fill="#528536"/>
<rect x="332.72" y="550.2" width="28.14" height="8.06" fill="#b03030"/>
<rect x="332.72" y="557.96" width="28.14" height="8.06" fill="#cb3834"/>
<rect x="332.72" y="565.72" width="28.14" height="8.06" fill="#b93332"/>
<rect x="332.72" y="573.48" width="28.14" height="8.06" fill="#b93332"/>
<rect x="360.56" y="550.2" width="28.14" height="8.06" fill="#9c2a2c"/>
<rect x="360.56" y="557.96" width="28.14" height="8.06" fill="#7b2028"/>
<rect x="360.56" y="565.72" width="28.14" height="8.06" fill="#a62d2e"/>
<rect x="360.56" y="573.48" width="28.14" height="8.06" fill="#b03030"/>
<rect x="388.4" y="550.2" width="28.14" height="8.06" fill="#b03030"/>
<rect x="388.4" y="557.96" width="28.14" height="8.06" fill="#9c2a2c"/>
<rect x="388.4" y="565.72" width="28.14" height="8.06" fill="#9c2a2c"/>
<rect x="388.4" y="573.48" width="28.14" height="8.06" fill="#9c2a2c"/>
</g>
<text class="g gd" x="418.24" y="556.65">Ccr8</text>
<text class="g gd" x="418.24" y="564.35">Ccr6</text>
<text class="g gd" x="418.24" y="572.05">Cx3cr1</text>
<text class="g gd" x="418.24" y="579.75">Ccl5</text>
<text class="t" x="286.9" y="596.3" textLength="91.7" lengthAdjust="spacingAndGlyphs">NK Cell Receptors</text>
<rect x="286.9" y="598" width="91.7" height="1" fill="#222"/>
<g>
<rect x="249.2" y="601.25" width="28.14" height="7.81" fill="#6cac44"/>
<rect x="249.2" y="608.76" width="28.14" height="7.81" fill="#3a5c2a"/>
<rect x="249.2" y="616.27" width="28.14" height="7.81" fill="#528536"/>
<rect x="249.2" y="623.78" width="28.14" height="7.81" fill="#6cac44"/>
<rect x="249.2" y="631.29" width="28.14" height="7.81" fill="#80c450"/>
<rect x="249.2" y="638.8" width="28.14" height="7.81" fill="#528536"/>
<rect x="249.2" y="646.31" width="28.14" height="7.81" fill="#5a923a"/>
<rect x="277.04" y="601.25" width="28.14" height="7.81" fill="#6cac44"/>
<rect x="277.04" y="608.76" width="28.14" height="7.81" fill="#6cac44"/>
<rect x="277.04" y="616.27" width="28.14" height="7.81" fill="#88ce54"/>
<rect x="277.04" y="623.78" width="28.14" height="7.81" fill="#80c450"/>
<rect x="277.04" y="631.29" width="28.14" height="7.81" fill="#6cac44"/>
<rect x="277.04" y="638.8" width="28.14" height="7.81" fill="#639f3f"/>
<rect x="277.04" y="646.31" width="28.14" height="7.81" fill="#76b84a"/>
<rect x="304.88" y="601.25" width="28.14" height="7.81" fill="#5a923a"/>
<rect x="304.88" y="608.76" width="28.14" height="7.81" fill="#80c450"/>
<rect x="304.88" y="616.27" width="28.14" height="7.81" fill="#528536"/>
<rect x="304.88" y="623.78" width="28.14" height="7.81" fill="#639f3f"/>
<rect x="304.88" y="631.29" width="28.14" height="7.81" fill="#528536"/>
<rect x="304.88" y="638.8" width="28.14" height="7.81" fill="#80c450"/>
<rect x="304.88" y="646.31" width="28.14" height="7.81" fill="#6cac44"/>
<rect x="332.72" y="601.25" width="28.14" height="7.81" fill="#b93332"/>
<rect x="332.72" y="608.76" width="28.14" height="7.81" fill="#b03030"/>
<rect x="332.72" y="616.27" width="28.14" height="7.81" fill="#cb3834"/>
<rect x="332.72" y="623.78" width="28.14" height="7.81" fill="#b03030"/>
<rect x="332.72" y="631.29" width="28.14" height="7.81" fill="#a62d2e"/>
<rect x="332.72" y="638.8" width="28.14" height="7.81" fill="#b93332"/>
<rect x="332.72" y="646.31" width="28.14" height="7.81" fill="#b03030"/>
<rect x="360.56" y="601.25" width="28.14" height="7.81" fill="#86242a"/>
<rect x="360.56" y="608.76" width="28.14" height="7.81" fill="#b03030"/>
<rect x="360.56" y="616.27" width="28.14" height="7.81" fill="#b03030"/>
<rect x="360.56" y="623.78" width="28.14" height="7.81" fill="#a62d2e"/>
<rect x="360.56" y="631.29" width="28.14" height="7.81" fill="#b93332"/>
<rect x="360.56" y="638.8" width="28.14" height="7.81" fill="#701c26"/>
<rect x="360.56" y="646.31" width="28.14" height="7.81" fill="#9c2a2c"/>
<rect x="388.4" y="601.25" width="28.14" height="7.81" fill="#b93332"/>
<rect x="388.4" y="608.76" width="28.14" height="7.81" fill="#9c2a2c"/>
<rect x="388.4" y="616.27" width="28.14" height="7.81" fill="#3a0e1e"/>
<rect x="388.4" y="623.78" width="28.14" height="7.81" fill="#c23634"/>
<rect x="388.4" y="631.29" width="28.14" height="7.81" fill="#b03030"/>
<rect x="388.4" y="638.8" width="28.14" height="7.81" fill="#c23634"/>
<rect x="388.4" y="646.31" width="28.14" height="7.81" fill="#b03030"/>
</g>
<text class="g gd" x="418.24" y="606.65">Klf2</text>
<text class="g gd" x="418.24" y="614.45">Klra1</text>
<text class="g gd" x="418.24" y="622.25">Klra12</text>
<text class="g gd" x="418.24" y="630.05">Klra22</text>
<text class="g gd" x="418.24" y="637.85">Klra16</text>
<text class="g gd" x="418.24" y="645.65">Klrb1d</text>
<text class="g gd" x="418.24" y="653.45">CD244</text>
<text class="t" x="255.6" y="667.7" textLength="153" lengthAdjust="spacingAndGlyphs">Cell-adhesion and Cytoskeletal</text>
<rect x="255.6" y="669" width="153" height="1" fill="#222"/>
<g>
<rect x="249.2" y="672.4" width="28.14" height="7.86" fill="#6cac44"/>
<rect x="249.2" y="679.96" width="28.14" height="7.86" fill="#528536"/>
<rect x="249.2" y="687.52" width="28.14" height="7.86" fill="#528536"/>
<rect x="249.2" y="695.08" width="28.14" height="7.86" fill="#639f3f"/>
<rect x="249.2" y="702.64" width="28.14" height="7.86" fill="#5a923a"/>
<rect x="249.2" y="710.2" width="28.14" height="7.86" fill="#76b84a"/>
<rect x="249.2" y="717.76" width="28.14" height="7.86" fill="#243420"/>
<rect x="277.04" y="672.4" width="28.14" height="7.86" fill="#6cac44"/>
<rect x="277.04" y="679.96" width="28.14" height="7.86" fill="#80c450"/>
<rect x="277.04" y="687.52" width="28.14" height="7.86" fill="#90d858"/>
<rect x="277.04" y="695.08" width="28.14" height="7.86" fill="#6cac44"/>
<rect x="277.04" y="702.64" width="28.14" height="7.86" fill="#80c450"/>
<rect x="277.04" y="710.2" width="28.14" height="7.86" fill="#6cac44"/>
<rect x="277.04" y="717.76" width="28.14" height="7.86" fill="#80c450"/>
<rect x="304.88" y="672.4" width="28.14" height="7.86" fill="#76b84a"/>
<rect x="304.88" y="679.96" width="28.14" height="7.86" fill="#639f3f"/>
<rect x="304.88" y="687.52" width="28.14" height="7.86" fill="#426a2e"/>
<rect x="304.88" y="695.08" width="28.14" height="7.86" fill="#76b84a"/>
<rect x="304.88" y="702.64" width="28.14" height="7.86" fill="#639f3f"/>
<rect x="304.88" y="710.2" width="28.14" height="7.86" fill="#639f3f"/>
<rect x="304.88" y="717.76" width="28.14" height="7.86" fill="#76b84a"/>
<rect x="332.72" y="672.4" width="28.14" height="7.86" fill="#b93332"/>
<rect x="332.72" y="679.96" width="28.14" height="7.86" fill="#86242a"/>
<rect x="332.72" y="687.52" width="28.14" height="7.86" fill="#c23634"/>
<rect x="332.72" y="695.08" width="28.14" height="7.86" fill="#701c26"/>
<rect x="332.72" y="702.64" width="28.14" height="7.86" fill="#c23634"/>
<rect x="332.72" y="710.2" width="28.14" height="7.86" fill="#9c2a2c"/>
<rect x="332.72" y="717.76" width="28.14" height="7.86" fill="#c23634"/>
<rect x="360.56" y="672.4" width="28.14" height="7.86" fill="#c23634"/>
<rect x="360.56" y="679.96" width="28.14" height="7.86" fill="#cb3834"/>
<rect x="360.56" y="687.52" width="28.14" height="7.86" fill="#b03030"/>
<rect x="360.56" y="695.08" width="28.14" height="7.86" fill="#c23634"/>
<rect x="360.56" y="702.64" width="28.14" height="7.86" fill="#701c26"/>
<rect x="360.56" y="710.2" width="28.14" height="7.86" fill="#c23634"/>
<rect x="360.56" y="717.76" width="28.14" height="7.86" fill="#c23634"/>
<rect x="388.4" y="672.4" width="28.14" height="7.86" fill="#9c2a2c"/>
<rect x="388.4" y="679.96" width="28.14" height="7.86" fill="#581622"/>
<rect x="388.4" y="687.52" width="28.14" height="7.86" fill="#a62d2e"/>
<rect x="388.4" y="695.08" width="28.14" height="7.86" fill="#b93332"/>
<rect x="388.4" y="702.64" width="28.14" height="7.86" fill="#b93332"/>
<rect x="388.4" y="710.2" width="28.14" height="7.86" fill="#b93332"/>
<rect x="388.4" y="717.76" width="28.14" height="7.86" fill="#86242a"/>
</g>
<text class="g gd" x="418.24" y="677.75">Itgb4</text>
<text class="g gd" x="418.24" y="685.57">Itgb5</text>
<text class="g gd" x="418.24" y="693.39">Itga2</text>
<text class="g gd" x="418.24" y="701.21">VCAM1</text>
<text class="g gd" x="418.24" y="709.03">Gas7</text>
<text class="g gd" x="418.24" y="716.85">Garnl4</text>
<text class="g gd" x="418.24" y="724.67">SWAP70</text>
<text class="cd" x="41.7" y="733.8">CD103<tspan font-size="4.6" dy="-2.6">-</tspan></text>
<text class="cd" x="68.5" y="733.8">CD103<tspan font-size="4.6" dy="-2.6">-</tspan></text>
<text class="cd" x="94.5" y="733.8">CD103<tspan font-size="4.6" dy="-2.6">-</tspan></text>
<text class="cd" x="123.3" y="733.8">CD103<tspan font-size="4.6" dy="-2.6">+</tspan></text>
<text class="cd" x="151.6" y="733.8">CD103<tspan font-size="4.6" dy="-2.6">+</tspan></text>
<text class="cd" x="179" y="733.8">CD103<tspan font-size="4.6" dy="-2.6">+</tspan></text>
<text class="cd" x="252.5" y="733.8">CD103<tspan font-size="4.6" dy="-2.6">-</tspan></text>
<text class="cd" x="280" y="733.8">CD103<tspan font-size="4.6" dy="-2.6">-</tspan></text>
<text class="cd" x="306.2" y="733.8">CD103<tspan font-size="4.6" dy="-2.6">-</tspan></text>
<text class="cd" x="334.5" y="733.8">CD103<tspan font-size="4.6" dy="-2.6">+</tspan></text>
<text class="cd" x="362.8" y="733.8">CD103<tspan font-size="4.6" dy="-2.6">+</tspan></text>
<text class="cd" x="390.2" y="733.8">CD103<tspan font-size="4.6" dy="-2.6">+</tspan></text>
<text class="k" text-anchor="middle" x="227.3" y="747.5">Colour Key</text>
<rect x="121" y="749.7" width="208" height="5.2" fill="url(#key)"/>
<text class="k" text-anchor="middle" x="126.6" y="764">-1.5</text>
<text class="k" text-anchor="middle" x="159.6" y="764">-1</text>
<text class="k" text-anchor="middle" x="192.6" y="764">-0.5</text>
<text class="k" text-anchor="middle" x="225.6" y="764">0</text>
<text class="k" text-anchor="middle" x="258.6" y="764">0.5</text>
<text class="k" text-anchor="middle" x="291.6" y="764">1</text>
<text class="k" text-anchor="middle" x="324.6" y="764">1.5</text>
<text class="k" text-anchor="middle" x="225.2" y="772.5">Row Z-Score</text>
<text class="pl" x="273" y="12">B</text>
<text class="h" x="344" y="13.5" textLength="129" lengthAdjust="spacingAndGlyphs" style="font-size:10.4px">Stages of NKT Development</text>
<rect x="318" y="17.8" width="178.4" height="1.1" fill="#111"/>
<text class="st" x="319.8" y="31.3">CD44<tspan font-size="6" dy="-3.6">-</tspan></text>
<text class="st" x="319.2" y="43.6">NK1.1<tspan font-size="6" dy="-3.6">-</tspan></text>
<text class="st" x="393" y="31.3">CD44<tspan font-size="6" dy="-3.6">+</tspan></text>
<text class="st" x="392.4" y="43.6">NK1.1<tspan font-size="6" dy="-3.6">-</tspan></text>
<text class="st" x="465.7" y="31.3">CD44<tspan font-size="6" dy="-3.6">+</tspan></text>
<text class="st" x="465.1" y="43.6">NK1.1<tspan font-size="6" dy="-3.6">+</tspan></text>
<text class="pl" x="273" y="150.2">C</text>
<g shape-rendering="geometricPrecision">
<clipPath id="c0"><rect x="300.5" y="47.7" width="64.9" height="65.4"/></clipPath>
<polygon clip-path="url(#c0)" points="303.08,113.1 303.08,113.08 304.62,111.54 305.96,103.46 307.5,78.46 308.85,64.04 310,66.92 310.77,59.23 311.73,51.54 312.69,59.23 313.85,76.54 315.58,97.69 316.92,103.46 318.46,106.35 320.38,104.42 322.69,105.77 325.19,103.85 327.69,105 330.38,103.46 332.88,105 335.38,106.35 337.31,110.19 338.85,112.31 345.38,113.08 345.38,113.1" fill="#8a8a8a"/>
<rect x="300.5" y="47.7" width="64.9" height="65.4" fill="none" stroke="#848484" stroke-width="1.15"/>
<path d="M300.2 106.45h-1.3 M300.2 99.8h-1.3 M300.2 93.15h-1.3 M300.2 86.5h-1.3 M300.2 79.85h-1.3 M300.2 73.2h-1.3 M300.2 66.55h-1.3 M300.2 59.9h-1.3 M300.2 53.25h-1.3 M306.5 113.4v1.3 M320.73 113.4v1.3 M334.95 113.4v1.3 M349.17 113.4v1.3 M363.4 113.4v1.3" stroke="#444" stroke-width="0.6" fill="none"/>
<path d="M320.96 80.77H354.04 M321.36 79.57v2.4 M353.64 79.57v2.4" stroke="#505050" stroke-width="1.1" fill="none"/>
<text class="sm" text-anchor="middle" x="350.19" y="73.89">20.7</text>
<clipPath id="c1"><rect x="376.2" y="47.5" width="65.7" height="65.5"/></clipPath>
<polygon clip-path="url(#c1)" points="378.85,113 378.85,113.08 380.38,109.23 382.31,97.69 383.85,84.23 385.19,72.69 386.15,78.46 387.12,74.62 388.46,81.35 390,73.65 391.54,86.15 393.08,91.92 394.23,88.08 395.38,95.77 396.35,89.04 397.69,91.92 399.62,86.15 401.54,76.54 403.46,66.92 404.42,62.12 405.77,65 406.92,58.27 408.27,60.19 409.62,50.58 410.77,58.27 412.12,57.31 413.46,68.85 415,78.46 416.54,95.77 417.88,107.31 419.81,112.69 422.69,113.08 422.69,113" fill="#8a8a8a"/>
<rect x="376.2" y="47.5" width="65.7" height="65.5" fill="none" stroke="#848484" stroke-width="1.15"/>
<path d="M375.9 106.35h-1.3 M375.9 99.7h-1.3 M375.9 93.05h-1.3 M375.9 86.4h-1.3 M375.9 79.75h-1.3 M375.9 73.1h-1.3 M375.9 66.45h-1.3 M375.9 59.8h-1.3 M375.9 53.15h-1.3 M382.2 113.3v1.3 M396.62 113.3v1.3 M411.05 113.3v1.3 M425.47 113.3v1.3 M439.9 113.3v1.3" stroke="#444" stroke-width="0.6" fill="none"/>
<path d="M396.73 80.77H429.81 M397.13 79.57v2.4 M429.41 79.57v2.4" stroke="#505050" stroke-width="1.1" fill="none"/>
<text class="sm" text-anchor="middle" x="429.42" y="73.89">67.2</text>
<clipPath id="c2"><rect x="450.4" y="47" width="65.4" height="65.7"/></clipPath>
<polygon clip-path="url(#c2)" points="453.36,112.7 453.36,112.66 455.61,110.07 458.55,104.01 461.14,101.42 463.74,103.67 467.2,105.74 470.66,105.4 474.12,103.67 476.71,99.69 478.79,91.9 480.52,78.06 482.25,64.22 483.63,54.71 484.67,51.25 485.88,56.44 487.09,64.22 488.48,79.79 489.86,95.36 490.9,107.47 491.94,112.32 494.88,112.66 494.88,112.7" fill="#8a8a8a"/>
<rect x="450.4" y="47" width="65.4" height="65.7" fill="none" stroke="#848484" stroke-width="1.15"/>
<path d="M450.1 106.05h-1.3 M450.1 99.4h-1.3 M450.1 92.75h-1.3 M450.1 86.1h-1.3 M450.1 79.45h-1.3 M450.1 72.8h-1.3 M450.1 66.15h-1.3 M450.1 59.5h-1.3 M450.1 52.85h-1.3 M456.4 113v1.3 M470.75 113v1.3 M485.1 113v1.3 M499.45 113v1.3 M513.8 113v1.3" stroke="#444" stroke-width="0.6" fill="none"/>
<path d="M471.18 80.31H504.05 M471.58 79.11v2.4 M503.65 79.11v2.4" stroke="#505050" stroke-width="1.1" fill="none"/>
<text class="sm" text-anchor="middle" x="505.26" y="73.55">82.7</text>
<clipPath id="c3"><rect x="300.4" y="150.6" width="66.3" height="66.4"/></clipPath>
<polygon clip-path="url(#c3)" points="301.11,217 301.11,216.99 301.11,206.59 302.03,205.33 302.96,201.97 304,193.63 305.03,188.12 306.19,180.03 307.34,176.57 308.5,167.33 309.65,158.09 310.58,162.71 311.27,156.94 312.42,167.33 313.58,176.57 314.97,190.43 316.58,201.97 318.2,206.59 319.12,207.21 320.05,209.36 320.97,209 321.89,207.06 323.51,206.59 324.43,204.78 325.36,204.28 326.97,204.75 328.36,201.97 329.28,196.2 330.21,201.97 331.59,205.44 332.52,205.27 333.44,206.59 335.06,208.9 336.21,209.36 337.37,212.37 338.52,214.68 339.68,216.29 341.29,216.99 341.29,217" fill="#909090"/>
<polyline clip-path="url(#c3)" points="300.5,217 301.11,204.28 302.73,199.67 303.88,191.58 305.03,185.81 306.19,184.65 307.34,183.5 308.27,169.64 308.96,154.63 309.65,158.09 310.35,162.71 311.04,158.09 311.5,156.25 312.42,163.87 313.12,169.64 314.04,181.19 314.97,188.12 316.12,193.89 317.27,198.51 318.43,201.97 319.58,204.28 320.97,203.36 322.36,203.13 324.2,203.82 325.82,202.44 326.97,205.44 328.13,206.59 329.75,207.75 331.59,208.9 333.44,212.37 335.06,214.68 336.67,215.83 338.52,216.52 341.99,216.76 366.24,216.76" fill="none" stroke="#111" stroke-width="0.85" stroke-linejoin="round"/>
<rect x="300.4" y="150.6" width="66.3" height="66.4" fill="none" stroke="#848484" stroke-width="1.15"/>
<path d="M300.1 210.35h-1.3 M300.1 203.7h-1.3 M300.1 197.05h-1.3 M300.1 190.4h-1.3 M300.1 183.75h-1.3 M300.1 177.1h-1.3 M300.1 170.45h-1.3 M300.1 163.8h-1.3 M300.1 157.15h-1.3 M306.4 217.3v1.3 M320.97 217.3v1.3 M335.55 217.3v1.3 M350.12 217.3v1.3 M364.7 217.3v1.3" stroke="#444" stroke-width="0.6" fill="none"/>
<clipPath id="c4"><rect x="376.4" y="150.5" width="66.2" height="66.5"/></clipPath>
<polygon clip-path="url(#c4)" points="377.08,217 377.08,217 377.08,174.23 378,169.62 379.23,165 380.46,159.62 381.54,155 382.62,159.62 383.85,160.38 384.62,169.62 385.38,177.31 386.31,172.69 387.38,165 388.46,161.15 389.54,171.15 390.77,183.46 391.54,194.23 392.31,201.92 393.08,198.08 393.85,194.23 394.46,181.92 395.08,172.69 395.69,185 396.46,198.85 397.38,198.08 398.46,195.77 399.23,191.15 400,188.08 401.23,185.77 402.31,183.46 403.54,175.77 404.62,169.62 405.69,172.69 406.92,175.77 408.15,182.69 409.23,188.08 409.85,181.92 410.31,177.31 411.23,171.92 412.31,168.08 413.08,174.23 413.85,180.38 414.62,185 415.38,189.62 416.46,198.08 417.69,206.54 418.92,211.92 420,215 421.54,217 421.54,217" fill="#909090"/>
<polyline clip-path="url(#c4)" points="376.5,217 377.08,172.69 378,168.08 379.23,164.23 380.46,159.62 381.54,155 382.31,158.85 383.08,161.92 383.69,159.62 384.15,158.85 384.77,168.08 385.38,178.08 386.31,171.15 387.23,165 388.15,162.69 388.77,161.15 389.69,169.62 390.77,180.38 391.54,176.54 392.31,174.23 393.08,178.08 393.85,181.92 394.46,176.54 395.08,172.69 395.85,180.38 396.46,186.54 397.38,185.31 398.46,185 399.23,188.85 400,191.15 401.08,180.38 402.31,170.38 402.92,172.69 403.54,174.23 404.31,165 405.08,157.31 406,162.69 406.92,168.08 408.15,160.38 409.23,154.23 410,164.23 410.77,174.23 411.54,171.15 412.31,168.85 413.08,175 413.85,180.38 414.92,186.54 416.15,192.69 417.38,201.15 418.46,208.08 419.54,212.69 420.77,215.77 422.31,216.85 441.54,216.85" fill="none" stroke="#111" stroke-width="0.85" stroke-linejoin="round"/>
<rect x="376.4" y="150.5" width="66.2" height="66.5" fill="none" stroke="#848484" stroke-width="1.15"/>
<path d="M376.1 210.35h-1.3 M376.1 203.7h-1.3 M376.1 197.05h-1.3 M376.1 190.4h-1.3 M376.1 183.75h-1.3 M376.1 177.1h-1.3 M376.1 170.45h-1.3 M376.1 163.8h-1.3 M376.1 157.15h-1.3 M382.4 217.3v1.3 M396.95 217.3v1.3 M411.5 217.3v1.3 M426.05 217.3v1.3 M440.6 217.3v1.3" stroke="#444" stroke-width="0.6" fill="none"/>
<clipPath id="c5"><rect x="452" y="150.4" width="66.4" height="66.3"/></clipPath>
<polygon clip-path="url(#c5)" points="452.62,216.7 452.62,217 453.08,203.46 453.54,209.62 453.85,212.69 454.62,209.62 455.38,206.54 456.62,194.23 457.69,183.46 458.46,175 459.23,168.08 459.85,161.15 460.31,156.54 460.92,162.69 461.54,168.08 462.31,172.69 463.08,175.77 463.85,184.23 464.62,191.15 465.38,198.85 466.15,205 467.38,208.08 468.46,209.62 469.54,210.54 470.77,211.15 472.31,212.08 473.85,212.69 475.08,212.08 476.15,211.15 476.92,208.08 477.69,205.77 478.77,204.69 480,204.23 481.23,205.31 482.31,206.54 483.38,207.77 484.62,208.85 486.15,209.31 487.69,209.62 489.23,211.15 490.77,212.69 492.31,214.54 493.85,215.77 495,216.37 496.15,217 496.15,216.7" fill="#909090"/>
<polyline clip-path="url(#c5)" points="452.62,212.69 453.08,202.69 453.54,208.85 453.85,211.15 454.62,208.85 455.38,205.77 456.62,193.46 457.69,181.92 458.46,174.23 459.23,168.08 459.85,163.46 460.31,160.38 460.92,166.54 461.54,171.15 462.31,172.69 463.08,173.46 463.85,178.85 464.62,183.46 465.54,188.85 466.46,192.69 467.69,195.77 469.23,198.08 470.46,199.77 471.54,201.15 473.08,199.62 474.62,198.08 476.15,196.08 477.69,194.23 479.23,189.31 480.77,183.46 482.31,177.31 483.85,171.15 484.62,166.54 485.38,163.46 486.46,158.54 487.69,154.23 488.46,159.62 489.23,165 490,174.23 490.77,183.46 491.54,194.23 492.31,203.46 493.08,208.85 493.85,212.69 495.08,215 496.15,216.08 498.46,216.69 501.54,217 518.77,217" fill="none" stroke="#111" stroke-width="0.85" stroke-linejoin="round"/>
<rect x="452" y="150.4" width="66.4" height="66.3" fill="none" stroke="#848484" stroke-width="1.15"/>
<path d="M451.7 210.05h-1.3 M451.7 203.4h-1.3 M451.7 196.75h-1.3 M451.7 190.1h-1.3 M451.7 183.45h-1.3 M451.7 176.8h-1.3 M451.7 170.15h-1.3 M451.7 163.5h-1.3 M451.7 156.85h-1.3 M458 217v1.3 M472.6 217v1.3 M487.2 217v1.3 M501.8 217v1.3 M516.4 217v1.3" stroke="#444" stroke-width="0.6" fill="none"/>
<path d="M490 174.23L501.54 166.54 M482.31 210.38L499.23 202.69" stroke="#111" stroke-width="0.6" fill="none"/>
<text class="an" x="503" y="167.6">WT</text>
<text class="an" x="499.9" y="204">CPM</text>
<clipPath id="c6"><rect x="300.2" y="238.2" width="65.4" height="65.8"/></clipPath>
<polygon clip-path="url(#c6)" points="300.58,304 300.58,304.04 300.58,258.85 301.73,263.65 303.08,268.46 304.62,274.23 305.96,278.08 306.92,264.62 307.88,255 308.85,268.46 309.81,281.92 310.77,274.23 311.73,268.46 312.69,264.62 313.65,260.77 314.62,253.08 315.58,246.35 316.35,254.04 316.92,260.77 317.69,255 318.46,251.15 320,249.23 321.35,246.35 322.31,251.15 323.27,255 324.23,250.19 325.19,247.31 326.15,253.08 327.12,258.85 328.08,268.46 329.04,278.08 330,287.69 330.96,295.38 331.73,301.15 332.31,304.04 332.31,304" fill="#909090"/>
<polyline clip-path="url(#c6)" points="300.3,304 300.58,260.77 301.54,264.62 302.69,268.46 303.65,273.27 304.62,276.15 305.77,265.58 306.92,256.92 308.08,254.04 308.65,261.73 309.23,268.46 309.81,272.31 310.38,274.23 311.35,270.38 312.31,266.54 313.46,265 314.62,263.65 315.58,260.77 316.54,258.85 318.08,259.23 319.42,258.85 320.38,255 321.35,252.12 322.31,254.62 323.27,255.96 324.23,248.27 325.19,242.5 326.15,247.31 327.12,251.15 328.08,258.85 329.04,266.54 330.38,270.77 331.54,274.23 332.69,277.12 333.85,280 334.42,287.69 334.81,293.46 335.77,297.69 336.73,301.15 337.69,303.08 338.65,304.04 365.19,304.04" fill="none" stroke="#111" stroke-width="0.85" stroke-linejoin="round"/>
<rect x="300.2" y="238.2" width="65.4" height="65.8" fill="none" stroke="#848484" stroke-width="1.15"/>
<path d="M299.9 297.35h-1.3 M299.9 290.7h-1.3 M299.9 284.05h-1.3 M299.9 277.4h-1.3 M299.9 270.75h-1.3 M299.9 264.1h-1.3 M299.9 257.45h-1.3 M299.9 250.8h-1.3 M299.9 244.15h-1.3 M306.2 304.3v1.3 M320.55 304.3v1.3 M334.9 304.3v1.3 M349.25 304.3v1.3 M363.6 304.3v1.3" stroke="#444" stroke-width="0.6" fill="none"/>
<clipPath id="c7"><rect x="376.9" y="238.2" width="65.4" height="65.8"/></clipPath>
<polygon clip-path="url(#c7)" points="377.23,304 377.23,304 377.23,241.23 378,247.38 378.62,253.54 379.23,259.69 380.15,265.85 381.08,270.46 382,268.92 383.08,267.38 383.85,261.23 384.62,256.62 385.38,265.85 386.15,275.08 386.92,268.92 387.69,262.77 388.31,255.08 388.77,248.92 389.23,242.77 389.69,256.62 390.31,275.08 391.23,278.15 392.31,281.23 393.08,276.62 393.85,272 394.62,276.62 395.38,281.23 396.15,279.69 396.92,278.15 397.69,272 398.46,265.85 399.23,272.77 400,279.69 401.08,273.54 402.31,267.38 403.08,275.08 403.85,282.77 405.08,287.38 406.15,292 407.23,296.62 408.46,301.23 409.69,303.08 410.77,304 410.77,304" fill="#909090"/>
<polyline clip-path="url(#c7)" points="377,304 377.23,240.46 378,245.85 378.62,250.46 379.23,253.54 379.85,252.77 380.46,252 381.23,261.23 382,268.92 382.92,262 383.85,255.08 384.62,263.54 385.38,272 386.15,265.85 386.92,259.69 387.54,268.15 388.15,276.62 389.08,274.31 390,272 390.77,275.85 391.54,279.69 392.31,272 393.08,264.31 393.85,271.23 394.62,278.15 395.54,273.54 396.46,268.92 397.38,265.85 398.15,263.54 399.08,270.46 400,276.62 401.23,270.46 402.62,265.08 403.38,271.23 404.15,276.62 404.92,270.46 405.69,265.08 406.62,263.69 407.69,262.77 408.46,260.46 409.23,258.92 409.69,268.92 410.31,278.15 411.08,282 411.85,285.85 412.46,292.77 413.08,298.15 413.85,300.92 414.62,302.77 416.15,303.85 442,303.85" fill="none" stroke="#111" stroke-width="0.85" stroke-linejoin="round"/>
<rect x="376.9" y="238.2" width="65.4" height="65.8" fill="none" stroke="#848484" stroke-width="1.15"/>
<path d="M376.6 297.35h-1.3 M376.6 290.7h-1.3 M376.6 284.05h-1.3 M376.6 277.4h-1.3 M376.6 270.75h-1.3 M376.6 264.1h-1.3 M376.6 257.45h-1.3 M376.6 250.8h-1.3 M376.6 244.15h-1.3 M382.9 304.3v1.3 M397.25 304.3v1.3 M411.6 304.3v1.3 M425.95 304.3v1.3 M440.3 304.3v1.3" stroke="#444" stroke-width="0.6" fill="none"/>
<clipPath id="c8"><rect x="452.3" y="238.4" width="66.1" height="65.6"/></clipPath>
<polygon clip-path="url(#c8)" points="452.62,304 452.62,304 453.08,302.77 454.23,302.25 455.38,302 456.41,301.78 457.44,301.27 458.46,301.23 459.62,300.47 460.77,299.69 461.92,299.71 463.08,298.92 464,298.17 464.92,297.85 465.92,297.81 466.92,296.62 468.15,294.31 469.23,292 470.46,287.38 471.54,282.77 472.62,278.15 473.85,273.54 475.08,268.92 476.15,264.31 476.92,256.62 477.69,248.92 478.46,246.62 479.23,244.31 479.85,248.92 480.31,253.54 480.92,258.15 481.54,262.77 482.31,270.46 483.08,278.15 483.85,285.85 484.62,293.54 485.38,298.15 486.15,301.23 486.92,303.08 487.69,304 487.69,304" fill="#909090"/>
<polyline clip-path="url(#c8)" points="452.62,303.08 455.38,302.92 460,302.46 463.08,302 466.15,301.23 468.46,300 470.77,298.15 472.62,295.85 474.62,292.77 476.15,287.38 477.69,281.23 478.77,273.54 480,265.85 480.92,258.92 481.85,252 482.77,247.38 483.85,242.77 484.46,247.38 484.92,252 485.54,253.54 486.15,255.08 486.77,263.54 487.38,272 488,281.23 488.46,290.46 489.08,295.85 489.54,299.69 490.15,302 490.77,303.54 492.31,304 518.77,304" fill="none" stroke="#111" stroke-width="0.85" stroke-linejoin="round"/>
<rect x="452.3" y="238.4" width="66.1" height="65.6" fill="none" stroke="#848484" stroke-width="1.15"/>
<path d="M452 297.35h-1.3 M452 290.7h-1.3 M452 284.05h-1.3 M452 277.4h-1.3 M452 270.75h-1.3 M452 264.1h-1.3 M452 257.45h-1.3 M452 250.8h-1.3 M452 244.15h-1.3 M458.3 304.3v1.3 M472.82 304.3v1.3 M487.35 304.3v1.3 M501.88 304.3v1.3 M516.4 304.3v1.3" stroke="#444" stroke-width="0.6" fill="none"/>
<clipPath id="c9"><rect x="299.6" y="324.6" width="65.4" height="65.8"/></clipPath>
<polygon clip-path="url(#c9)" points="299.62,390.4 299.62,390.38 299.81,368.85 300.38,380.38 300.77,387.12 301.73,387.78 302.69,388.46 303.85,388.79 305,389.04 305.96,388.69 306.92,388.55 307.88,388.08 308.85,387.87 309.81,388.28 310.77,388.08 311.73,387.79 312.69,387.31 313.65,386.93 314.62,386.15 315.58,386.2 316.54,385.77 317.5,385.22 318.46,385.19 319.42,382.31 320.38,380.38 321.92,378.46 323.27,376.54 324.62,373.65 326.15,370.77 327.31,366.92 328.46,363.08 329.23,358.27 330,353.46 330.77,360.19 331.54,366.92 332.31,363.08 332.88,359.23 333.85,364.04 334.81,368.85 335.77,361.15 336.73,353.46 337.69,347.69 338.65,341.92 339.62,344.81 340.58,347.69 341.54,340.96 342.5,334.23 343.46,331.92 344.42,329.42 345.38,334.23 346.35,340 347.31,346.73 348.27,353.46 349.23,361.15 350.19,368.85 351.15,375.58 352.12,382.31 353.08,386.15 354.04,389.04 355.38,390.38 355.38,390.4" fill="#909090"/>
<polyline clip-path="url(#c9)" points="299.62,390.38 299.81,366.92 300.38,379.42 300.77,386.15 302.69,388.08 305,389.04 308.85,389.23 312.69,389.04 315.58,388.08 318.46,387.12 320.77,386.15 323.27,385.19 325.77,383.27 328.08,381.35 329.23,378.85 330.38,376.54 331.35,374.62 332.31,372.69 333.46,375.58 334.81,378.46 336.15,379.42 337.69,380.38 338.85,378.46 340,376.54 340.96,373.65 341.92,370.77 342.88,362.12 343.85,353.46 344.81,346.73 345.77,340 346.54,341.92 347.31,343.85 348.08,339.04 348.85,334.23 349.62,331.35 350.38,328.46 350.96,332.31 351.54,336.15 352.31,349.62 353.08,363.08 354.04,370.77 355,378.46 355.96,382.31 356.92,386.15 358.46,388.46 359.81,390 364.62,390.19" fill="none" stroke="#111" stroke-width="0.85" stroke-linejoin="round"/>
<rect x="299.6" y="324.6" width="65.4" height="65.8" fill="none" stroke="#848484" stroke-width="1.15"/>
<path d="M299.3 383.75h-1.3 M299.3 377.1h-1.3 M299.3 370.45h-1.3 M299.3 363.8h-1.3 M299.3 357.15h-1.3 M299.3 350.5h-1.3 M299.3 343.85h-1.3 M299.3 337.2h-1.3 M299.3 330.55h-1.3 M305.6 390.7v1.3 M319.95 390.7v1.3 M334.3 390.7v1.3 M348.65 390.7v1.3 M363 390.7v1.3" stroke="#444" stroke-width="0.6" fill="none"/>
<clipPath id="c10"><rect x="375.8" y="324.5" width="65.7" height="65.8"/></clipPath>
<polygon clip-path="url(#c10)" points="376.15,390.3 376.15,390.31 376.15,385.69 376.62,388 377.08,389.54 378,389.51 378.92,389.55 379.85,389.47 380.77,389.6 381.69,389.58 382.62,389.61 383.54,389.51 384.46,389.5 385.38,389.54 386.35,389.44 387.31,389.42 388.27,389.35 389.23,389.42 390.19,389.32 391.15,389.36 392.12,389.32 393.08,389.23 394.04,389.18 395,389.13 395.96,389.14 396.92,389.06 397.88,389.17 398.85,389.05 399.81,389.02 400.77,389.08 401.73,389.09 402.69,388.91 403.65,388.96 404.62,388.77 405.77,388.76 406.92,388.46 408.46,387.23 410,385.69 411.23,382.62 412.31,379.54 413.08,371.85 413.85,364.15 414.62,357.23 415.38,351.08 415.85,355.69 416.15,359.54 416.92,356.46 417.69,353.38 418.46,348.77 419.23,344.15 419.85,338.77 420.46,333.38 421.08,330.62 421.54,328 422.15,333.38 422.62,339.54 423.23,344.15 423.85,348.77 424.46,353.38 425.08,358 425.69,362.62 426.15,367.23 426.92,365.69 427.69,364.15 428.46,370.31 429.23,376.46 430,379.54 430.77,382.62 431.85,385.69 433.08,388 434.62,390.31 434.62,390.3" fill="#909090"/>
<polyline clip-path="url(#c10)" points="376.15,385.69 376.77,388 377.38,389.54 382.31,389.54 385.38,389.54 389.23,389.23 393.08,389.08 395.38,388.46 397.69,388 399.23,388.77 400.77,389.54 403.54,388.92 406.15,388.46 408.15,388.15 410,388 411.54,386.31 413.08,384.15 414.62,380.31 416.15,376.46 417.54,371.85 418.92,367.23 419.85,361.85 420.77,356.46 421.54,347.23 422.31,338 422.92,339.54 423.54,341.08 424.15,343.38 424.62,345.69 425.23,341.85 425.69,338 426.15,333.38 426.62,328.77 427.08,333.38 427.54,338 428,333.38 428.46,328.77 429.08,334.15 429.69,339.54 430.46,346.46 431.23,353.38 432,361.85 432.77,370.31 433.54,377.23 434.31,384.15 435.08,387.23 435.85,389.54 437.69,390.15 441.23,390.15" fill="none" stroke="#111" stroke-width="0.85" stroke-linejoin="round"/>
<rect x="375.8" y="324.5" width="65.7" height="65.8" fill="none" stroke="#848484" stroke-width="1.15"/>
<path d="M375.5 383.65h-1.3 M375.5 377h-1.3 M375.5 370.35h-1.3 M375.5 363.7h-1.3 M375.5 357.05h-1.3 M375.5 350.4h-1.3 M375.5 343.75h-1.3 M375.5 337.1h-1.3 M375.5 330.45h-1.3 M381.8 390.6v1.3 M396.23 390.6v1.3 M410.65 390.6v1.3 M425.07 390.6v1.3 M439.5 390.6v1.3" stroke="#444" stroke-width="0.6" fill="none"/>
<clipPath id="c11"><rect x="451.6" y="324.8" width="66.3" height="66"/></clipPath>
<polygon clip-path="url(#c11)" points="452.31,390.8 452.31,390.31 452.31,390 453.29,390.02 454.27,389.88 455.24,389.98 456.22,389.93 457.2,389.82 458.18,389.82 459.16,389.72 460.14,389.71 461.12,389.78 462.1,389.77 463.08,389.69 464.04,389.61 465,389.69 465.96,389.61 466.92,389.63 467.88,389.67 468.85,389.52 469.81,389.48 470.77,389.54 471.92,388.98 473.08,388.46 474.62,387.23 475.38,386.46 476.15,385.69 476.77,381.85 477.23,378.77 477.69,382.62 478.15,385.69 479.08,381.08 480,376.46 480.77,368.77 481.54,361.08 482.31,352.62 483.08,344.15 483.85,338 484.62,331.85 485.08,334.15 485.38,336.46 485.85,333.38 486.15,330.31 486.92,337.23 487.69,344.15 488.31,338.77 488.92,333.38 489.54,339.54 490,345.69 490.62,341.85 491.08,338 491.69,345.69 492.31,353.38 493.08,362.62 493.85,371.85 494.62,375.69 495.38,379.54 496.92,382.62 498.46,385.69 500,386.92 501.54,388 502.69,388.59 503.85,388.77 505,389.13 506.15,389.54 507.18,389.86 508.21,390.01 509.23,390.31 509.23,390.8" fill="#909090"/>
<polyline clip-path="url(#c11)" points="452.31,390 463.08,390 470.77,390 473.85,389.54 476.15,389.08 477.69,387.54 479.23,385.69 480,381.85 480.77,378 481.85,369.54 482.77,361.08 483.69,352.62 484.62,344.15 485.38,338.77 486.15,333.38 487.08,331.08 488,328.77 488.62,331.08 489.23,333.38 490,336.46 490.77,339.54 491.54,348 492.31,356.46 493.23,363.38 494.15,370.31 495.08,375.69 496.15,381.08 497.69,383.85 499.23,386.46 501.23,387.69 503.08,388.77 505.38,389.38 507.69,390 516.31,390" fill="none" stroke="#111" stroke-width="0.85" stroke-linejoin="round"/>
<rect x="451.6" y="324.8" width="66.3" height="66" fill="none" stroke="#848484" stroke-width="1.15"/>
<path d="M451.3 384.15h-1.3 M451.3 377.5h-1.3 M451.3 370.85h-1.3 M451.3 364.2h-1.3 M451.3 357.55h-1.3 M451.3 350.9h-1.3 M451.3 344.25h-1.3 M451.3 337.6h-1.3 M451.3 330.95h-1.3 M457.6 391.1v1.3 M472.18 391.1v1.3 M486.75 391.1v1.3 M501.32 391.1v1.3 M515.9 391.1v1.3" stroke="#444" stroke-width="0.6" fill="none"/>
<clipPath id="c12"><rect x="300.2" y="413.5" width="64.8" height="65.9"/></clipPath>
<polygon clip-path="url(#c12)" points="300.58,479.4 300.58,479.42 300.77,479.04 301.73,475.77 302.69,472.31 303.65,468.46 304.62,464.62 305.77,454.04 306.92,443.46 307.88,436.73 308.85,430 309.62,426.15 310.38,422.31 311.15,426.15 311.73,430 312.5,425.77 313.08,421.35 313.85,426.54 314.62,431.92 315.58,440.58 316.54,449.23 317.5,456.92 318.46,464.62 319.42,468.85 320.38,473.27 321.92,475 323.27,476.54 325.77,477.5 328.08,478.46 330,479.04 331.92,479.42 331.92,479.4" fill="#a4a4a4"/>
<polyline clip-path="url(#c12)" points="300.58,479.23 300.77,479.04 301.73,475.19 302.69,471.35 303.65,468.85 304.62,466.54 305.77,454.62 306.92,442.5 307.88,440.58 308.85,438.65 309.42,432.88 310,427.12 310.77,427.5 311.35,428.08 311.92,432.88 312.31,437.69 313.08,427.69 313.65,417.5 314.42,426.54 315,435.77 315.58,437.31 316.15,438.65 316.92,445.77 317.5,453.08 318.46,459.81 319.42,466.54 320.38,470.38 321.35,474.23 322.69,475.38 324.23,476.54 326.15,477.31 328.08,478.08 330,478.65 331.92,479.23 364.62,479.23" fill="none" stroke="#111" stroke-width="1.1" stroke-linejoin="round"/>
<rect x="300.2" y="413.5" width="64.8" height="65.9" fill="none" stroke="#848484" stroke-width="1.15"/>
<path d="M299.9 472.75h-1.3 M299.9 466.1h-1.3 M299.9 459.45h-1.3 M299.9 452.8h-1.3 M299.9 446.15h-1.3 M299.9 439.5h-1.3 M299.9 432.85h-1.3 M299.9 426.2h-1.3 M299.9 419.55h-1.3 M306.2 479.7v1.3 M320.4 479.7v1.3 M334.6 479.7v1.3 M348.8 479.7v1.3 M363 479.7v1.3" stroke="#444" stroke-width="0.6" fill="none"/>
<clipPath id="c13"><rect x="377.7" y="413.4" width="64.6" height="66.1"/></clipPath>
<polygon clip-path="url(#c13)" points="378,479.5 378,479.54 378,469.54 378.92,468.77 380,468 381.08,464.15 382.31,460.31 383.08,454.92 383.85,449.54 384.62,446.46 385.38,443.38 386,437.23 386.62,431.08 387.23,437.23 387.69,443.38 388.46,431.85 389.23,420.31 389.69,429.54 390.31,438.77 391.23,428.77 392.31,418.77 393.08,425.69 393.85,432.62 394.62,437.23 395.38,441.85 396.15,434.92 396.92,428 397.69,437.23 398.46,446.46 399.23,452.62 400,458.77 400.77,455.69 401.54,452.62 402.31,448 403.08,443.38 403.85,444.15 404.62,444.92 405.38,441.54 406.15,438 406.92,444.62 407.69,451.08 408.46,457.23 409.23,463.38 410,468 410.77,472.62 411.85,474.92 413.08,477.23 414.62,478.15 416.15,479.08 418.46,479.38 420.77,479.54 420.77,479.5" fill="#a4a4a4"/>
<polyline clip-path="url(#c13)" points="377.8,479.5 378,468.77 378.46,470.77 378.92,472.62 380.15,472.31 381.54,471.85 382.62,469.85 383.85,468 384.62,464.92 385.38,461.85 386.15,454.92 386.92,448 387.69,444.92 388.46,441.85 389.23,441.38 390,441.08 390.77,436 391.54,431.08 392.31,424.15 393.08,417.23 393.69,424.15 394.31,431.08 394.92,434.92 395.38,438.77 396,434.15 396.46,429.54 397.08,428 397.69,426.46 398.31,432.62 398.92,438.77 399.54,443.69 400,448.77 400.62,448.31 401.23,448 402,442.62 402.62,437.23 403.23,440.31 403.85,443.38 404.46,440.31 405.08,437.23 405.85,437.23 406.62,437.23 407.23,441.85 407.69,446.46 408.46,451.08 409.23,455.69 410,461.85 410.77,468 411.85,470.77 413.08,473.38 414.62,474.92 416.15,476.46 418,477.23 420,478 421.54,478.77 423.08,479.54 441.54,479.54" fill="none" stroke="#111" stroke-width="1.1" stroke-linejoin="round"/>
<rect x="377.7" y="413.4" width="64.6" height="66.1" fill="none" stroke="#848484" stroke-width="1.15"/>
<path d="M377.4 472.85h-1.3 M377.4 466.2h-1.3 M377.4 459.55h-1.3 M377.4 452.9h-1.3 M377.4 446.25h-1.3 M377.4 439.6h-1.3 M377.4 432.95h-1.3 M377.4 426.3h-1.3 M377.4 419.65h-1.3 M383.7 479.8v1.3 M397.85 479.8v1.3 M412 479.8v1.3 M426.15 479.8v1.3 M440.3 479.8v1.3" stroke="#444" stroke-width="0.6" fill="none"/>
<clipPath id="c14"><rect x="452.3" y="413" width="65.9" height="66.1"/></clipPath>
<polygon clip-path="url(#c14)" points="473.08,479.1 473.08,479.54 473.85,479.23 475.08,477.54 476.15,475.69 477.23,468 478.46,460.31 479.38,449.54 480.31,438.77 481.08,430.31 481.85,421.85 482.46,419.54 483.08,417.23 483.69,422.62 484.31,428 485.08,438 485.85,448 486.62,454.15 487.38,460.31 488.15,463.38 488.92,466.46 490.15,469.54 491.54,472.62 492.62,474.46 493.85,476.46 495.08,477.85 496.15,479.08 497.23,479.54 497.23,479.1" fill="#a4a4a4"/>
<polyline clip-path="url(#c14)" points="452.62,479.23 463.08,479.08 472.31,478.77 473.85,477.69 475.38,476.46 476.62,471.38 477.69,466.46 478.77,456.46 479.69,446.46 480.46,437.23 481.23,428 482,422.62 482.77,417.23 483.38,421.85 484,426.46 484.62,438.77 485.38,451.08 486.15,458 486.92,464.92 487.69,466.77 488.46,468.77 489.23,469.54 490,470.31 491.08,472.31 492.31,474.15 493.54,475.69 494.62,477.23 495.69,478.15 496.92,479.08 501.54,479.23 516.62,479.23" fill="none" stroke="#111" stroke-width="1.1" stroke-linejoin="round"/>
<rect x="452.3" y="413" width="65.9" height="66.1" fill="none" stroke="#848484" stroke-width="1.15"/>
<path d="M452 472.45h-1.3 M452 465.8h-1.3 M452 459.15h-1.3 M452 452.5h-1.3 M452 445.85h-1.3 M452 439.2h-1.3 M452 432.55h-1.3 M452 425.9h-1.3 M452 419.25h-1.3 M458.3 479.4v1.3 M472.78 479.4v1.3 M487.25 479.4v1.3 M501.73 479.4v1.3 M516.2 479.4v1.3" stroke="#444" stroke-width="0.6" fill="none"/>
</g>
<path shape-rendering="geometricPrecision" d="M300.2 119.4H358.2" stroke="#111" stroke-width="1.3" fill="none"/>
<path shape-rendering="geometricPrecision" d="M366.2 119.4L355.6 117.1L355.6 121.7Z" fill="#111"/>
<text class="h cdl" text-anchor="middle" x="330.4" y="132">CD103</text>
<path shape-rendering="geometricPrecision" d="M375.9 119.4H434.7" stroke="#111" stroke-width="1.3" fill="none"/>
<path shape-rendering="geometricPrecision" d="M442.7 119.4L432.1 117.1L432.1 121.7Z" fill="#111"/>
<text class="h cdl" text-anchor="middle" x="406.3" y="132">CD103</text>
<path shape-rendering="geometricPrecision" d="M450.1 119.4H506.6" stroke="#111" stroke-width="1.3" fill="none"/>
<path shape-rendering="geometricPrecision" d="M514.6 119.4L504 117.1L504 121.7Z" fill="#111"/>
<text class="h cdl" text-anchor="middle" x="479.5" y="132">CD103</text>
<text class="h" text-anchor="middle" transform="translate(294.6 78.8) rotate(-90)">% of max</text>
<path shape-rendering="geometricPrecision" d="M300.1 221.6H359.5" stroke="#111" stroke-width="1.3" fill="none"/>
<path shape-rendering="geometricPrecision" d="M367.5 221.6L356.9 219.3L356.9 223.9Z" fill="#111"/>
<text class="h cdl" text-anchor="middle" x="330.4" y="232.3">CD103</text>
<path shape-rendering="geometricPrecision" d="M376.1 221.6H435.4" stroke="#111" stroke-width="1.3" fill="none"/>
<path shape-rendering="geometricPrecision" d="M443.4 221.6L432.8 219.3L432.8 223.9Z" fill="#111"/>
<text class="h cdl" text-anchor="middle" x="406.9" y="232.3">CD103</text>
<path shape-rendering="geometricPrecision" d="M451.7 221.6H509.7" stroke="#111" stroke-width="1.3" fill="none"/>
<path shape-rendering="geometricPrecision" d="M517.7 221.6L507.1 219.3L507.1 223.9Z" fill="#111"/>
<text class="h cdl" text-anchor="middle" x="482" y="232.3">CD103</text>
<text class="h" text-anchor="middle" transform="translate(293.3 186) rotate(-90)">% of max</text>
<path shape-rendering="geometricPrecision" d="M299.9 310H358.4" stroke="#111" stroke-width="1.3" fill="none"/>
<path shape-rendering="geometricPrecision" d="M366.4 310L355.8 307.7L355.8 312.3Z" fill="#111"/>
<text class="h" text-anchor="middle" x="331.8" y="319.8">Bcl2</text>
<path shape-rendering="geometricPrecision" d="M376.6 310H435.1" stroke="#111" stroke-width="1.3" fill="none"/>
<path shape-rendering="geometricPrecision" d="M443.1 310L432.5 307.7L432.5 312.3Z" fill="#111"/>
<text class="h" text-anchor="middle" x="410" y="319.8">Bcl2</text>
<path shape-rendering="geometricPrecision" d="M452 310H509.7" stroke="#111" stroke-width="1.3" fill="none"/>
<path shape-rendering="geometricPrecision" d="M517.7 310L507.1 307.7L507.1 312.3Z" fill="#111"/>
<text class="h" text-anchor="middle" x="484" y="319.8">Bcl2</text>
<text class="h" text-anchor="middle" transform="translate(293.3 272.8) rotate(-90)">% of max</text>
<path shape-rendering="geometricPrecision" d="M299.3 396.5H357.8" stroke="#111" stroke-width="1.3" fill="none"/>
<path shape-rendering="geometricPrecision" d="M365.8 396.5L355.2 394.2L355.2 398.8Z" fill="#111"/>
<text class="h" text-anchor="middle" x="331.4" y="407">ICOS</text>
<path shape-rendering="geometricPrecision" d="M375.5 396.5H434.3" stroke="#111" stroke-width="1.3" fill="none"/>
<path shape-rendering="geometricPrecision" d="M442.3 396.5L431.7 394.2L431.7 398.8Z" fill="#111"/>
<text class="h" text-anchor="middle" x="407.9" y="407">ICOS</text>
<path shape-rendering="geometricPrecision" d="M451.3 396.5H509.7" stroke="#111" stroke-width="1.3" fill="none"/>
<path shape-rendering="geometricPrecision" d="M517.7 396.5L507.1 394.2L507.1 398.8Z" fill="#111"/>
<text class="h" text-anchor="middle" x="484" y="407">ICOS</text>
<text class="h" text-anchor="middle" transform="translate(293.3 357.3) rotate(-90)">% of max</text>
<path shape-rendering="geometricPrecision" d="M299.9 484.7H357.8" stroke="#111" stroke-width="1.3" fill="none"/>
<path shape-rendering="geometricPrecision" d="M365.8 484.7L355.2 482.4L355.2 487Z" fill="#111"/>
<text class="h" text-anchor="middle" x="330.4" y="495.8">Tbet</text>
<path shape-rendering="geometricPrecision" d="M377.4 484.7H435.1" stroke="#111" stroke-width="1.3" fill="none"/>
<path shape-rendering="geometricPrecision" d="M443.1 484.7L432.5 482.4L432.5 487Z" fill="#111"/>
<text class="h" text-anchor="middle" x="407.9" y="495.8">Tbet</text>
<path shape-rendering="geometricPrecision" d="M452 484.7H509.7" stroke="#111" stroke-width="1.3" fill="none"/>
<path shape-rendering="geometricPrecision" d="M517.7 484.7L507.1 482.4L507.1 487Z" fill="#111"/>
<text class="h" text-anchor="middle" x="482" y="495.8">Tbet</text>
<text class="h" text-anchor="middle" transform="translate(293.3 447) rotate(-90)">% of max</text>
</svg>
</body></html>
